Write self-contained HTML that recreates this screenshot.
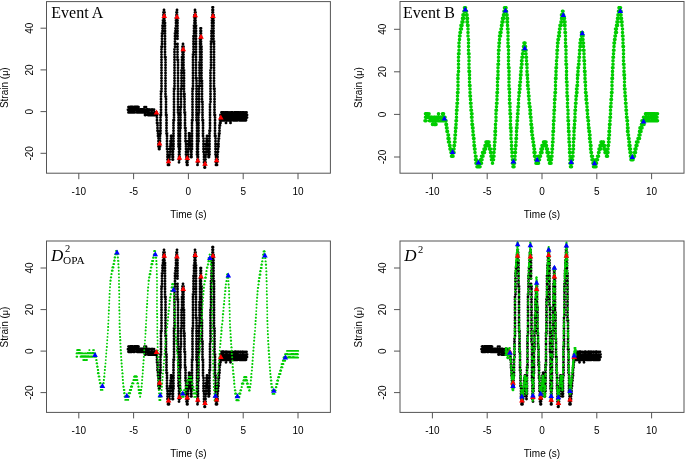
<!DOCTYPE html>
<html lang="en"><head><meta charset="utf-8"><title>Strain events</title>
<style>
html,body{margin:0;padding:0;background:#fff}
svg{display:block}
.s{font-family:"Liberation Sans",Arial,sans-serif;font-size:10px;fill:#000}
.t{font-family:"Liberation Serif","Times New Roman",serif;font-size:16px;fill:#000}
.ax{stroke:#555;stroke-width:1;fill:none}
.d{fill:none;stroke-linecap:round}
</style></head><body>
<svg width="685" height="460" viewBox="0 0 685 460">
<rect width="685" height="460" fill="#fff"/>
<g class="ax"><rect x="46.5" y="1.6" width="283.9" height="171.6"/><path d="M78.8 173.2v6M133.6 173.2v6M188.4 173.2v6M243.2 173.2v6M298.0 173.2v6M46.5 153.3h-6M46.5 111.6h-6M46.5 69.9h-6M46.5 28.2h-6"/></g>
<g class="s" text-anchor="middle"><text x="78.8" y="194.5">-10</text><text x="133.6" y="194.5">-5</text><text x="188.4" y="194.5">0</text><text x="243.2" y="194.5">5</text><text x="298.0" y="194.5">10</text><text x="188.4" y="217.7">Time (s)</text><text transform="translate(32.9 153.3) rotate(-90)">-20</text><text transform="translate(32.9 111.6) rotate(-90)">0</text><text transform="translate(32.9 69.9) rotate(-90)">20</text><text transform="translate(32.9 28.2) rotate(-90)">40</text><text transform="translate(8.1 87.7) rotate(-90)">Strain (<tspan style="font-size:9px">μ</tspan>)</text></g>
<g class="ax"><rect x="400.0" y="1.5" width="284.0" height="171.7"/><path d="M432.4 173.2v6M487.2 173.2v6M542.0 173.2v6M596.8 173.2v6M651.6 173.2v6M400.0 157.0h-6M400.0 114.4h-6M400.0 71.8h-6M400.0 29.3h-6"/></g>
<g class="s" text-anchor="middle"><text x="432.4" y="194.5">-10</text><text x="487.2" y="194.5">-5</text><text x="542.0" y="194.5">0</text><text x="596.8" y="194.5">5</text><text x="651.6" y="194.5">10</text><text x="542.0" y="217.7">Time (s)</text><text transform="translate(386.4 157.0) rotate(-90)">-20</text><text transform="translate(386.4 114.4) rotate(-90)">0</text><text transform="translate(386.4 71.8) rotate(-90)">20</text><text transform="translate(386.4 29.3) rotate(-90)">40</text><text transform="translate(361.6 87.6) rotate(-90)">Strain (<tspan style="font-size:9px">μ</tspan>)</text></g>
<g class="ax"><rect x="46.5" y="241.0" width="283.9" height="171.4"/><path d="M78.8 412.4v6M133.6 412.4v6M188.4 412.4v6M243.2 412.4v6M298.0 412.4v6M46.5 392.6h-6M46.5 351.1h-6M46.5 309.6h-6M46.5 268.0h-6"/></g>
<g class="s" text-anchor="middle"><text x="78.8" y="433.8">-10</text><text x="133.6" y="433.8">-5</text><text x="188.4" y="433.8">0</text><text x="243.2" y="433.8">5</text><text x="298.0" y="433.8">10</text><text x="188.4" y="456.9">Time (s)</text><text transform="translate(32.9 392.6) rotate(-90)">-20</text><text transform="translate(32.9 351.1) rotate(-90)">0</text><text transform="translate(32.9 309.6) rotate(-90)">20</text><text transform="translate(32.9 268.0) rotate(-90)">40</text><text transform="translate(8.1 327.0) rotate(-90)">Strain (<tspan style="font-size:9px">μ</tspan>)</text></g>
<g class="ax"><rect x="400.0" y="241.0" width="284.0" height="171.4"/><path d="M432.4 412.4v6M487.2 412.4v6M542.0 412.4v6M596.8 412.4v6M651.6 412.4v6M400.0 392.6h-6M400.0 351.1h-6M400.0 309.6h-6M400.0 268.0h-6"/></g>
<g class="s" text-anchor="middle"><text x="432.4" y="433.8">-10</text><text x="487.2" y="433.8">-5</text><text x="542.0" y="433.8">0</text><text x="596.8" y="433.8">5</text><text x="651.6" y="433.8">10</text><text x="542.0" y="456.9">Time (s)</text><text transform="translate(386.4 392.6) rotate(-90)">-20</text><text transform="translate(386.4 351.1) rotate(-90)">0</text><text transform="translate(386.4 309.6) rotate(-90)">20</text><text transform="translate(386.4 268.0) rotate(-90)">40</text><text transform="translate(361.6 327.0) rotate(-90)">Strain (<tspan style="font-size:9px">μ</tspan>)</text></g>
<path class="d" stroke="#000" stroke-width="2.85" d="M128 109.7h.01M128.5 109.7h.01M128.5 112.4h.01M128.5 107.1h.01M129 109.7h.01M129 112.4h.01M129 107.1h.01M129.5 109.7h.01M129.5 112.4h.01M130 109.7h.01M130 107.1h.01M130.5 107.1h.01M130.5 109.7h.01M130.5 112.4h.01M131 109.7h.01M131 112.4h.01M131 107.1h.01M131.5 109.7h.01M131.5 107.1h.01M131.5 112.4h.01M132 107.1h.01M132 109.7h.01M132 112.4h.01M132.5 109.7h.01M132.5 107.1h.01M133 109.7h.01M133 107.1h.01M133.5 109.7h.01M133.5 112.4h.01M134 109.7h.01M134 107.1h.01M134 112.4h.01M134.5 109.7h.01M134.5 107.1h.01M134.5 112.4h.01M135 109.7h.01M135 107.1h.01M135.5 109.7h.01M135.5 107.1h.01M136 109.7h.01M136 107.1h.01M136.5 109.7h.01M136.5 107.1h.01M137 109.7h.01M137 107.1h.01M137 112.4h.01M137.5 109.7h.01M137.5 112.4h.01M137.5 107.1h.01M138 112.4h.01M138 109.7h.01M138 107.1h.01M138.5 109.7h.01M138.5 107.1h.01M139 109.7h.01M139 112.4h.01M139.5 109.7h.01M139.5 112.4h.01M140 109.7h.01M140 112.4h.01M140.5 109.7h.01M140.5 112.4h.01M141 109.7h.01M141 112.4h.01M141.5 109.7h.01M141.5 112.4h.01M142 112.4h.01M142 109.7h.01M142.5 109.7h.01M142.5 112.4h.01M143 112.4h.01M143 109.7h.01M143.5 112.4h.01M143.5 109.7h.01M144 109.7h.01M144 112.4h.01M144.5 109.7h.01M144.5 112.4h.01M144.5 107.1h.01M145 109.7h.01M145 115h.01M145 112.4h.01M145.5 109.7h.01M145.5 112.4h.01M145.5 115h.01M146 107.1h.01M146 112.4h.01M146 109.7h.01M146.5 109.7h.01M146.5 112.4h.01M147 112.4h.01M147 109.7h.01M147.5 112.4h.01M147.5 109.7h.01M148 109.7h.01M148 112.4h.01M148 115h.01M148.5 112.4h.01M148.5 115h.01M149 115h.01M149 109.7h.01M149 112.4h.01M149.5 112.4h.01M149.5 115h.01M149.5 109.7h.01M150 112.4h.01M150 115h.01M150.5 112.4h.01M150.5 115h.01M151 112.4h.01M151 109.7h.01M151.5 112.4h.01M151.5 115h.01M152 109.7h.01M152 112.4h.01M152 115h.01M152.5 112.4h.01M152.5 115h.01M152.5 109.7h.01M153 112.4h.01M153 115h.01M153.5 112.4h.01M153.5 115h.01M154 115h.01M154 112.4h.01M154 109.7h.01M154.5 112.4h.01M154.5 115h.01M155 115h.01M155 112.4h.01M155.5 115h.01M155.5 112.4h.01M156 112.4h.01M156 115h.01M156.5 112.4h.01M156.5 115h.01M157 115h.01M157 117.6h.01M157 120.2h.01M157 122.9h.01M157.5 122.9h.01M157.5 125.5h.01M157.5 128.1h.01M157.5 130.7h.01M158 130.7h.01M158 133.4h.01M158 136h.01M158.5 136h.01M158.5 138.6h.01M158.5 141.2h.01M158.5 143.9h.01M158.5 146.5h.01M159 143.9h.01M159 146.5h.01M159 149.1h.01M159.5 149.1h.01M159.5 146.5h.01M160 146.5h.01M160 143.9h.01M160 141.2h.01M160 138.6h.01M160 136h.01M160 133.4h.01M160 130.7h.01M160.5 130.7h.01M160.5 133.4h.01M160.5 128.1h.01M160.5 125.5h.01M160.5 122.9h.01M160.5 120.2h.01M160.5 117.6h.01M160.5 115h.01M161 115h.01M161 112.4h.01M161 109.7h.01M161 107.1h.01M161 104.5h.01M161 101.8h.01M161 99.2h.01M161 96.6h.01M161 94h.01M161 91.3h.01M161.5 91.3h.01M161.5 88.7h.01M161.5 86.1h.01M161.5 83.5h.01M161.5 80.8h.01M161.5 78.2h.01M161.5 75.6h.01M161.5 72.9h.01M161.5 70.3h.01M161.5 67.7h.01M161.5 65.1h.01M161.5 62.4h.01M161.5 59.8h.01M161.5 57.2h.01M161.5 54.6h.01M161.5 51.9h.01M161.5 49.3h.01M161.5 46.7h.01M162 46.7h.01M162 44h.01M162 41.4h.01M162 38.8h.01M162 36.2h.01M162 33.5h.01M162.5 33.5h.01M162.5 30.9h.01M162.5 28.3h.01M162.5 25.7h.01M163 25.7h.01M163 28.3h.01M163 23h.01M163 20.4h.01M163.5 20.4h.01M163.5 17.8h.01M163.5 15.1h.01M163.5 12.5h.01M164 12.5h.01M164 9.9h.01M164.5 15.1h.01M164.5 12.5h.01M164.5 17.8h.01M164.5 20.4h.01M164.5 23h.01M165 23h.01M165 25.7h.01M165 28.3h.01M165 30.9h.01M165 33.5h.01M165 36.2h.01M165 38.8h.01M165 41.4h.01M165 44h.01M165 46.7h.01M165 49.3h.01M165 51.9h.01M165 54.6h.01M165 57.2h.01M165.5 57.2h.01M165.5 59.8h.01M165.5 62.4h.01M165.5 65.1h.01M165.5 67.7h.01M165.5 70.3h.01M165.5 72.9h.01M165.5 75.6h.01M165.5 78.2h.01M165.5 80.8h.01M165.5 83.5h.01M165.5 86.1h.01M165.5 88.7h.01M165.5 91.3h.01M165.5 94h.01M165.5 96.6h.01M166 96.6h.01M166 99.2h.01M166 101.8h.01M166 104.5h.01M166 107.1h.01M166 109.7h.01M166 112.4h.01M166 115h.01M166.5 115h.01M166.5 117.6h.01M166.5 120.2h.01M166.5 122.9h.01M166.5 125.5h.01M166.5 128.1h.01M166.5 130.7h.01M166.5 133.4h.01M167 133.4h.01M167 136h.01M167 138.6h.01M167 141.2h.01M167 143.9h.01M167 146.5h.01M167 149.1h.01M167.5 149.1h.01M167.5 151.8h.01M167.5 154.4h.01M167.5 157h.01M167.5 159.6h.01M168 157h.01M168 159.6h.01M168 162.3h.01M168 164.9h.01M168.5 164.9h.01M169 164.9h.01M169 162.3h.01M169 159.6h.01M169.5 159.6h.01M169.5 157h.01M169.5 154.4h.01M170 154.4h.01M170 151.8h.01M170 149.1h.01M170 146.5h.01M170.5 146.5h.01M170.5 143.9h.01M170.5 141.2h.01M171 141.2h.01M171 138.6h.01M171 136h.01M171.5 138.6h.01M171.5 136h.01M171.5 141.2h.01M172 141.2h.01M172 143.9h.01M172 146.5h.01M172 149.1h.01M172.5 149.1h.01M172.5 151.8h.01M172.5 154.4h.01M172.5 157h.01M172.5 159.6h.01M173 157h.01M173 159.6h.01M173 154.4h.01M173 151.8h.01M173 149.1h.01M173.5 149.1h.01M173.5 146.5h.01M173.5 143.9h.01M173.5 141.2h.01M173.5 138.6h.01M173.5 136h.01M173.5 133.4h.01M173.5 130.7h.01M173.5 128.1h.01M173.5 125.5h.01M173.5 122.9h.01M173.5 120.2h.01M174 120.2h.01M174 117.6h.01M174 115h.01M174 112.4h.01M174 109.7h.01M174 107.1h.01M174 104.5h.01M174 101.8h.01M174 99.2h.01M174 96.6h.01M174 94h.01M174 91.3h.01M174 88.7h.01M174.5 88.7h.01M174.5 86.1h.01M174.5 83.5h.01M174.5 80.8h.01M174.5 78.2h.01M174.5 75.6h.01M174.5 72.9h.01M174.5 70.3h.01M174.5 67.7h.01M174.5 65.1h.01M174.5 62.4h.01M174.5 59.8h.01M174.5 57.2h.01M174.5 54.6h.01M174.5 51.9h.01M174.5 49.3h.01M175 46.7h.01M175 44h.01M175 41.4h.01M175 38.8h.01M175 36.2h.01M175 33.5h.01M175.5 36.2h.01M175.5 33.5h.01M175.5 30.9h.01M175.5 28.3h.01M176 28.3h.01M176 25.7h.01M176 23h.01M176 20.4h.01M176 17.8h.01M176.5 17.8h.01M176.5 15.1h.01M176.5 12.5h.01M177 12.5h.01M177 9.9h.01M177 15.1h.01M177 17.8h.01M177.5 17.8h.01M177.5 20.4h.01M177.5 23h.01M177.5 25.7h.01M177.5 28.3h.01M177.5 30.9h.01M177.5 33.5h.01M177.5 36.2h.01M177.5 38.8h.01M177.5 44h.01M177.5 46.7h.01M177.5 49.3h.01M177.5 51.9h.01M177.5 54.6h.01M177.5 57.2h.01M177.5 59.8h.01M178 59.8h.01M178 62.4h.01M178 65.1h.01M178 67.7h.01M178 70.3h.01M178 72.9h.01M178 75.6h.01M178 78.2h.01M178 80.8h.01M178 83.5h.01M178 86.1h.01M178 88.7h.01M178 91.3h.01M178 94h.01M178 96.6h.01M178 99.2h.01M178 101.8h.01M178 104.5h.01M178 107.1h.01M178 109.7h.01M178 112.4h.01M178.5 112.4h.01M178.5 115h.01M178.5 117.6h.01M178.5 120.2h.01M178.5 122.9h.01M178.5 125.5h.01M178.5 128.1h.01M178.5 130.7h.01M178.5 133.4h.01M178.5 136h.01M178.5 138.6h.01M178.5 141.2h.01M178.5 143.9h.01M178.5 146.5h.01M179 146.5h.01M179 149.1h.01M179 151.8h.01M179 154.4h.01M179 157h.01M179 159.6h.01M179 162.3h.01M179.5 159.6h.01M179.5 157h.01M179.5 154.4h.01M179.5 151.8h.01M180 149.1h.01M180 146.5h.01M180 143.9h.01M180 141.2h.01M180 138.6h.01M180 136h.01M180 133.4h.01M180 130.7h.01M180 128.1h.01M180.5 128.1h.01M180.5 125.5h.01M180.5 122.9h.01M180.5 120.2h.01M180.5 117.6h.01M180.5 115h.01M180.5 112.4h.01M180.5 109.7h.01M180.5 107.1h.01M181 107.1h.01M181 104.5h.01M181 101.8h.01M181 99.2h.01M181 96.6h.01M181 94h.01M181 91.3h.01M181 88.7h.01M181.5 88.7h.01M181.5 86.1h.01M181.5 83.5h.01M181.5 80.8h.01M181.5 78.2h.01M181.5 75.6h.01M181.5 72.9h.01M181.5 70.3h.01M182 70.3h.01M182 67.7h.01M182 65.1h.01M182 62.4h.01M182 59.8h.01M182 57.2h.01M182.5 57.2h.01M182.5 54.6h.01M182.5 51.9h.01M182.5 49.3h.01M182.5 46.7h.01M183 46.7h.01M183 44h.01M183 49.3h.01M183.5 46.7h.01M183.5 49.3h.01M183.5 51.9h.01M183.5 54.6h.01M183.5 57.2h.01M183.5 59.8h.01M183.5 62.4h.01M183.5 65.1h.01M183.5 67.7h.01M183.5 70.3h.01M184 70.3h.01M184 72.9h.01M184 75.6h.01M184 78.2h.01M184 80.8h.01M184 83.5h.01M184 86.1h.01M184 88.7h.01M184 91.3h.01M184 94h.01M184 96.6h.01M184.5 96.6h.01M184.5 94h.01M184.5 99.2h.01M184.5 101.8h.01M184.5 104.5h.01M184.5 107.1h.01M184.5 109.7h.01M184.5 112.4h.01M185 112.4h.01M185 115h.01M185 117.6h.01M185 120.2h.01M185 122.9h.01M185 125.5h.01M185 128.1h.01M185.5 128.1h.01M185.5 130.7h.01M185.5 133.4h.01M185.5 136h.01M185.5 138.6h.01M185.5 141.2h.01M186 141.2h.01M186 143.9h.01M186 146.5h.01M186 149.1h.01M186 151.8h.01M186 154.4h.01M186.5 157h.01M186.5 154.4h.01M186.5 159.6h.01M186.5 162.3h.01M187 162.3h.01M187 164.9h.01M187.5 162.3h.01M187.5 164.9h.01M187.5 159.6h.01M188 159.6h.01M188 157h.01M188 154.4h.01M188 151.8h.01M188 149.1h.01M188.5 149.1h.01M188.5 146.5h.01M188.5 143.9h.01M188.5 141.2h.01M189 141.2h.01M189 138.6h.01M189 136h.01M189 133.4h.01M189.5 133.4h.01M189.5 136h.01M190 136h.01M190 138.6h.01M190 141.2h.01M190 143.9h.01M190.5 141.2h.01M190.5 143.9h.01M190.5 146.5h.01M190.5 149.1h.01M191 151.8h.01M191 154.4h.01M191 157h.01M191.5 154.4h.01M191.5 157h.01M191.5 151.8h.01M191.5 149.1h.01M192 149.1h.01M192 146.5h.01M192 143.9h.01M192 141.2h.01M192 138.6h.01M192 136h.01M192 133.4h.01M192 130.7h.01M192 128.1h.01M192 125.5h.01M192 122.9h.01M192 120.2h.01M192.5 120.2h.01M192.5 117.6h.01M192.5 115h.01M192.5 112.4h.01M192.5 109.7h.01M192.5 107.1h.01M192.5 104.5h.01M192.5 101.8h.01M192.5 99.2h.01M192.5 96.6h.01M192.5 94h.01M192.5 91.3h.01M192.5 88.7h.01M193 88.7h.01M193 86.1h.01M193 83.5h.01M193 80.8h.01M193 78.2h.01M193 75.6h.01M193 72.9h.01M193 70.3h.01M193 67.7h.01M193 65.1h.01M193 62.4h.01M193 59.8h.01M193 57.2h.01M193 54.6h.01M193.5 54.6h.01M193.5 51.9h.01M193.5 49.3h.01M193.5 46.7h.01M193.5 44h.01M193.5 41.4h.01M193.5 38.8h.01M193.5 36.2h.01M194 36.2h.01M194 33.5h.01M194 30.9h.01M194 28.3h.01M194 25.7h.01M194.5 25.7h.01M194.5 23h.01M194.5 20.4h.01M194.5 17.8h.01M194.5 15.1h.01M195 15.1h.01M195 12.5h.01M195 9.9h.01M195.5 12.5h.01M195.5 15.1h.01M195.5 17.8h.01M195.5 20.4h.01M195.5 23h.01M195.5 25.7h.01M196 25.7h.01M196 28.3h.01M196 30.9h.01M196 33.5h.01M196 36.2h.01M196 38.8h.01M196 41.4h.01M196 44h.01M196 46.7h.01M196 49.3h.01M196 51.9h.01M196 54.6h.01M196 57.2h.01M196 59.8h.01M196 62.4h.01M196 65.1h.01M196 67.7h.01M196 70.3h.01M196 72.9h.01M196 75.6h.01M196 78.2h.01M196.5 78.2h.01M196.5 80.8h.01M196.5 83.5h.01M196.5 86.1h.01M196.5 88.7h.01M196.5 91.3h.01M196.5 94h.01M196.5 96.6h.01M196.5 99.2h.01M196.5 101.8h.01M196.5 104.5h.01M196.5 107.1h.01M196.5 109.7h.01M196.5 112.4h.01M196.5 115h.01M196.5 117.6h.01M196.5 120.2h.01M197 120.2h.01M197 122.9h.01M197 125.5h.01M197 128.1h.01M197 130.7h.01M197 133.4h.01M197 136h.01M197 138.6h.01M197 141.2h.01M197 143.9h.01M197 146.5h.01M197 149.1h.01M197 151.8h.01M197 154.4h.01M197.5 154.4h.01M197.5 157h.01M197.5 159.6h.01M197.5 162.3h.01M197.5 164.9h.01M198 162.3h.01M198 159.6h.01M198 157h.01M198 154.4h.01M198 151.8h.01M198 149.1h.01M198 146.5h.01M198 143.9h.01M198.5 141.2h.01M198.5 138.6h.01M198.5 136h.01M198.5 133.4h.01M198.5 130.7h.01M198.5 128.1h.01M198.5 125.5h.01M198.5 122.9h.01M198.5 120.2h.01M198.5 117.6h.01M198.5 115h.01M198.5 112.4h.01M199 112.4h.01M199 109.7h.01M199 107.1h.01M199 104.5h.01M199 101.8h.01M199 99.2h.01M199 96.6h.01M199 94h.01M199 91.3h.01M199 88.7h.01M199 86.1h.01M199.5 86.1h.01M199.5 83.5h.01M199.5 80.8h.01M199.5 78.2h.01M199.5 75.6h.01M199.5 72.9h.01M199.5 70.3h.01M199.5 67.7h.01M199.5 65.1h.01M199.5 62.4h.01M200 62.4h.01M200 59.8h.01M200 57.2h.01M200 54.6h.01M200 51.9h.01M200 49.3h.01M200 46.7h.01M200 44h.01M200 41.4h.01M200 38.8h.01M200.5 38.8h.01M200.5 36.2h.01M200.5 33.5h.01M200.5 30.9h.01M200.5 28.3h.01M201 28.3h.01M201 30.9h.01M201 33.5h.01M201 36.2h.01M201 38.8h.01M201 41.4h.01M201 44h.01M201 46.7h.01M201.5 46.7h.01M201.5 49.3h.01M201.5 51.9h.01M201.5 54.6h.01M201.5 57.2h.01M201.5 59.8h.01M201.5 62.4h.01M201.5 65.1h.01M201.5 67.7h.01M201.5 70.3h.01M201.5 72.9h.01M201.5 75.6h.01M201.5 78.2h.01M201.5 80.8h.01M202 80.8h.01M202 83.5h.01M202 86.1h.01M202 88.7h.01M202 91.3h.01M202 94h.01M202 96.6h.01M202 99.2h.01M202 101.8h.01M202.5 101.8h.01M202.5 104.5h.01M202.5 107.1h.01M202.5 109.7h.01M202.5 112.4h.01M202.5 115h.01M202.5 117.6h.01M202.5 120.2h.01M203 120.2h.01M203 122.9h.01M203 125.5h.01M203 128.1h.01M203 130.7h.01M203 133.4h.01M203 136h.01M203.5 138.6h.01M203.5 141.2h.01M203.5 143.9h.01M203.5 146.5h.01M203.5 149.1h.01M203.5 151.8h.01M204 151.8h.01M204 154.4h.01M204 157h.01M204 159.6h.01M204 162.3h.01M204.5 162.3h.01M204.5 164.9h.01M204.5 167.5h.01M205 167.5h.01M205 164.9h.01M205 162.3h.01M205.5 162.3h.01M205.5 159.6h.01M205.5 157h.01M205.5 154.4h.01M206 154.4h.01M206 151.8h.01M206 149.1h.01M206 146.5h.01M206 143.9h.01M206.5 143.9h.01M206.5 141.2h.01M206.5 138.6h.01M207 138.6h.01M207 136h.01M207.5 138.6h.01M207.5 141.2h.01M207.5 143.9h.01M208 143.9h.01M208 146.5h.01M208 149.1h.01M208 151.8h.01M208.5 151.8h.01M208.5 149.1h.01M208.5 154.4h.01M208.5 157h.01M209 154.4h.01M209 157h.01M209.5 154.4h.01M209.5 151.8h.01M209.5 149.1h.01M209.5 146.5h.01M209.5 143.9h.01M209.5 141.2h.01M209.5 138.6h.01M209.5 136h.01M209.5 133.4h.01M209.5 130.7h.01M210 130.7h.01M210 128.1h.01M210 125.5h.01M210 122.9h.01M210 120.2h.01M210 117.6h.01M210 115h.01M210 112.4h.01M210 109.7h.01M210 107.1h.01M210 104.5h.01M210.5 101.8h.01M210.5 99.2h.01M210.5 96.6h.01M210.5 94h.01M210.5 91.3h.01M210.5 88.7h.01M210.5 86.1h.01M210.5 83.5h.01M210.5 80.8h.01M210.5 78.2h.01M210.5 75.6h.01M210.5 72.9h.01M210.5 70.3h.01M211 67.7h.01M211 65.1h.01M211 62.4h.01M211 59.8h.01M211 57.2h.01M211 54.6h.01M211 51.9h.01M211 49.3h.01M211 46.7h.01M211 44h.01M211 41.4h.01M211.5 41.4h.01M211.5 38.8h.01M211.5 36.2h.01M211.5 33.5h.01M211.5 30.9h.01M212 28.3h.01M212 25.7h.01M212 23h.01M212 20.4h.01M212 17.8h.01M212.5 17.8h.01M212.5 15.1h.01M212.5 12.5h.01M212.5 9.9h.01M212.5 7.3h.01M213 7.3h.01M213 9.9h.01M213 12.5h.01M213 15.1h.01M213.5 15.1h.01M213.5 17.8h.01M213.5 20.4h.01M213.5 23h.01M213.5 25.7h.01M213.5 28.3h.01M213.5 30.9h.01M213.5 33.5h.01M213.5 36.2h.01M213.5 38.8h.01M213.5 41.4h.01M214 41.4h.01M214 44h.01M214 46.7h.01M214 49.3h.01M214 51.9h.01M214 54.6h.01M214 57.2h.01M214 59.8h.01M214 62.4h.01M214 65.1h.01M214 67.7h.01M214 70.3h.01M214 72.9h.01M214 75.6h.01M214 78.2h.01M214 80.8h.01M214 83.5h.01M214 86.1h.01M214 88.7h.01M214.5 88.7h.01M214.5 91.3h.01M214.5 94h.01M214.5 96.6h.01M214.5 99.2h.01M214.5 101.8h.01M214.5 104.5h.01M214.5 107.1h.01M214.5 109.7h.01M214.5 112.4h.01M214.5 115h.01M215 115h.01M215 117.6h.01M215 120.2h.01M215 122.9h.01M215 125.5h.01M215 128.1h.01M215 130.7h.01M215 133.4h.01M215 136h.01M215.5 136h.01M215.5 138.6h.01M215.5 141.2h.01M215.5 143.9h.01M215.5 146.5h.01M215.5 149.1h.01M215.5 151.8h.01M215.5 154.4h.01M216 154.4h.01M216 157h.01M216 159.6h.01M216 162.3h.01M216 164.9h.01M216.5 164.9h.01M217 162.3h.01M217 164.9h.01M217 159.6h.01M217.5 159.6h.01M217.5 157h.01M217.5 154.4h.01M217.5 151.8h.01M218 151.8h.01M218 149.1h.01M218 146.5h.01M218 143.9h.01M218.5 143.9h.01M218.5 146.5h.01M218.5 141.2h.01M218.5 138.6h.01M219 138.6h.01M219 136h.01M219 133.4h.01M219.5 133.4h.01M219.5 130.7h.01M219.5 128.1h.01M219.5 125.5h.01M220 125.5h.01M220 122.9h.01M220 120.2h.01M220.5 122.9h.01M220.5 120.2h.01M220.5 117.6h.01M220.5 115h.01M221 117.6h.01M221 120.2h.01M221 115h.01M221.5 120.2h.01M221.5 115h.01M221.5 117.6h.01M221.5 112.4h.01M222 115h.01M222 117.6h.01M222 120.2h.01M222 112.4h.01M222.5 117.6h.01M222.5 120.2h.01M222.5 112.4h.01M222.5 115h.01M223 120.2h.01M223 117.6h.01M223 115h.01M223 112.4h.01M223.5 112.4h.01M223.5 117.6h.01M223.5 120.2h.01M224 120.2h.01M224 115h.01M224 117.6h.01M224 112.4h.01M224.5 117.6h.01M224.5 115h.01M224.5 120.2h.01M225 117.6h.01M225 120.2h.01M225 115h.01M225.5 117.6h.01M225.5 115h.01M225.5 112.4h.01M226 112.4h.01M226 115h.01M226 117.6h.01M226 122.9h.01M226.5 112.4h.01M226.5 115h.01M226.5 120.2h.01M226.5 117.6h.01M227 117.6h.01M227 115h.01M227 120.2h.01M227.5 115h.01M227.5 117.6h.01M227.5 112.4h.01M227.5 120.2h.01M228 115h.01M228 117.6h.01M228 120.2h.01M228.5 115h.01M228.5 117.6h.01M229 115h.01M229 120.2h.01M229 117.6h.01M229 112.4h.01M229.5 115h.01M229.5 117.6h.01M229.5 120.2h.01M230 117.6h.01M230 115h.01M230.5 122.9h.01M230.5 117.6h.01M230.5 115h.01M230.5 120.2h.01M231 115h.01M231 117.6h.01M231 112.4h.01M231.5 115h.01M231.5 117.6h.01M231.5 112.4h.01M231.5 120.2h.01M232 115h.01M232 117.6h.01M232 112.4h.01M232.5 115h.01M232.5 112.4h.01M232.5 117.6h.01M233 120.2h.01M233 115h.01M233 117.6h.01M233.5 115h.01M233.5 117.6h.01M233.5 120.2h.01M234 115h.01M234 120.2h.01M234 117.6h.01M234.5 115h.01M234.5 112.4h.01M234.5 120.2h.01M234.5 117.6h.01M235 115h.01M235 117.6h.01M235 120.2h.01M235 112.4h.01M235.5 115h.01M235.5 112.4h.01M235.5 117.6h.01M235.5 120.2h.01M236 117.6h.01M236 115h.01M236 112.4h.01M236.5 117.6h.01M236.5 115h.01M236.5 120.2h.01M237 117.6h.01M237 112.4h.01M237 115h.01M237.5 115h.01M237.5 117.6h.01M237.5 120.2h.01M238 117.6h.01M238 112.4h.01M238 115h.01M238.5 117.6h.01M238.5 115h.01M238.5 112.4h.01M239 115h.01M239 117.6h.01M239.5 115h.01M239.5 117.6h.01M239.5 120.2h.01M240 117.6h.01M240 115h.01M240 120.2h.01M240 112.4h.01M240.5 115h.01M240.5 117.6h.01M240.5 112.4h.01M240.5 120.2h.01M241 117.6h.01M241 115h.01M241.5 117.6h.01M241.5 115h.01M241.5 120.2h.01M242 120.2h.01M242 115h.01M242 117.6h.01M242 112.4h.01M242.5 120.2h.01M242.5 117.6h.01M242.5 115h.01M242.5 112.4h.01M243 117.6h.01M243 115h.01M243 120.2h.01M243.5 120.2h.01M243.5 112.4h.01M243.5 115h.01M243.5 117.6h.01M244 115h.01M244 120.2h.01M244 117.6h.01M244.5 115h.01M244.5 120.2h.01M244.5 117.6h.01M245 115h.01M245 120.2h.01M245 117.6h.01M245 112.4h.01M245.5 117.6h.01M245.5 115h.01M246 115h.01M246 117.6h.01M246 120.2h.01M246.5 112.4h.01M246.5 117.6h.01M246.5 115h.01M247 117.6h.01M247 115h.01"/>
<path fill="#f00" d="M156.5 109.4L159.3 114.4L153.7 114.4ZM159.6 140.5L162.4 145.5L156.8 145.5ZM164.2 12.9L167.1 17.9L161.4 17.9ZM168.5 158.3L171.3 163.3L165.7 163.3ZM177.0 13.7L179.8 18.7L174.2 18.7ZM179.5 154.7L182.3 159.7L176.7 159.7ZM183.2 46.2L186.1 51.2L180.4 51.2ZM187.2 155.1L190.1 160.1L184.4 160.1ZM195.2 12.2L198.1 17.2L192.4 17.2ZM197.8 157.4L200.6 162.4L195.0 162.4ZM201.0 33.7L203.8 38.7L198.2 38.7ZM205.0 160.8L207.8 165.8L202.2 165.8ZM213.0 12.9L215.8 17.9L210.2 17.9ZM216.6 157.2L219.4 162.2L213.8 162.2ZM220.8 114.5L223.6 119.5L218.0 119.5Z"/>
<text class="t" x="51.3" y="17.8">Event A</text>
<path class="d" stroke="#00cd00" stroke-width="3.6" d="M425 120.8h.01M425.5 120.8h.01M425.5 117.3h.01M425.5 113.8h.01M426 117.3h.01M426 120.8h.01M426 113.8h.01M426.5 113.8h.01M426.5 117.3h.01M427 117.3h.01M427 113.8h.01M427.5 113.8h.01M427.5 117.3h.01M428 117.3h.01M428 113.8h.01M428.5 117.3h.01M429 117.3h.01M429 113.8h.01M429.5 117.3h.01M429.5 120.8h.01M430 120.8h.01M430 117.3h.01M430.5 117.3h.01M430.5 120.8h.01M431 120.8h.01M431 117.3h.01M431.5 117.3h.01M431.5 120.8h.01M432 120.8h.01M432 117.3h.01M432.5 120.8h.01M432.5 124.4h.01M433 120.8h.01M433 117.3h.01M433.5 120.8h.01M434 120.8h.01M434 124.4h.01M434 117.3h.01M434.5 117.3h.01M434.5 120.8h.01M435 120.8h.01M435 117.3h.01M435 124.4h.01M435.5 124.4h.01M435.5 120.8h.01M436 120.8h.01M436 124.4h.01M436.5 117.3h.01M436.5 120.8h.01M437 120.8h.01M437 117.3h.01M437.5 120.8h.01M437.5 117.3h.01M438 117.3h.01M438 120.8h.01M438.5 120.8h.01M438.5 117.3h.01M438.5 113.8h.01M439 117.3h.01M439 120.8h.01M439.5 117.3h.01M440 117.3h.01M440 120.8h.01M440.5 120.8h.01M440.5 117.3h.01M441 120.8h.01M441 117.3h.01M441.5 117.3h.01M441.5 120.8h.01M442 120.8h.01M442 117.3h.01M442.5 117.3h.01M442.5 113.8h.01M443 117.3h.01M443 113.8h.01M443.5 113.8h.01M443.5 117.3h.01M443.5 120.8h.01M444 120.8h.01M444 117.3h.01M444.5 120.8h.01M444.5 117.3h.01M445 117.3h.01M445 120.8h.01M445.5 120.8h.01M446 120.8h.01M446 124.4h.01M446.5 124.4h.01M446.5 127.9h.01M447 127.9h.01M447 131.4h.01M447.5 131.4h.01M448 135h.01M448 138.5h.01M448.5 135h.01M448.5 138.5h.01M448.5 142h.01M449 138.5h.01M449 142h.01M449.5 142h.01M449.5 145.6h.01M450 145.6h.01M450 149.1h.01M450.5 149.1h.01M451 149.1h.01M451 152.6h.01M451.5 152.6h.01M451.5 156.2h.01M452 152.6h.01M452 156.2h.01M452.5 156.2h.01M453 156.2h.01M453 152.6h.01M453.5 152.6h.01M454 152.6h.01M454 149.1h.01M454 145.6h.01M454.5 145.6h.01M454.5 142h.01M455 142h.01M455 138.5h.01M455 135h.01M455.5 135h.01M455.5 131.4h.01M455.5 127.9h.01M456 127.9h.01M456 124.4h.01M456 120.8h.01M456.5 120.8h.01M456.5 117.3h.01M456.5 113.8h.01M456.5 110.2h.01M457 110.2h.01M457 106.7h.01M457 103.2h.01M457.5 103.2h.01M457.5 99.6h.01M457.5 96.1h.01M457.5 92.6h.01M458 92.6h.01M458 89h.01M458 85.5h.01M458 82h.01M458 78.4h.01M458 74.9h.01M458.5 71.4h.01M458.5 67.8h.01M458.5 64.3h.01M458.5 60.8h.01M458.5 57.2h.01M458.5 53.7h.01M459 53.7h.01M459 50.2h.01M459 46.6h.01M459 43.1h.01M459.5 39.6h.01M459.5 36h.01M460 36h.01M460 32.5h.01M460.5 32.5h.01M460.5 29h.01M461 29h.01M461 25.4h.01M461.5 25.4h.01M461.5 29h.01M462 25.4h.01M462 21.9h.01M462.5 21.9h.01M462.5 18.4h.01M463 18.4h.01M463 21.9h.01M463 14.9h.01M463.5 14.9h.01M463.5 18.4h.01M464 14.9h.01M464 11.3h.01M464.5 11.3h.01M464.5 7.8h.01M465 7.8h.01M465 11.3h.01M465.5 7.8h.01M465.5 11.3h.01M466 11.3h.01M466.5 11.3h.01M466.5 14.9h.01M467 14.9h.01M467 18.4h.01M467 21.9h.01M467.5 21.9h.01M467.5 18.4h.01M467.5 25.4h.01M468 25.4h.01M468 29h.01M468 32.5h.01M468 36h.01M468.5 39.6h.01M468.5 43.1h.01M468.5 46.6h.01M468.5 50.2h.01M468.5 53.7h.01M469 53.7h.01M469 57.2h.01M469 60.8h.01M469 64.3h.01M469 67.8h.01M469 71.4h.01M469.5 71.4h.01M469.5 74.9h.01M469.5 78.4h.01M469.5 82h.01M469.5 85.5h.01M470 85.5h.01M470 89h.01M470 92.6h.01M470 96.1h.01M470.5 96.1h.01M470.5 99.6h.01M470.5 103.2h.01M471 103.2h.01M471 106.7h.01M471 110.2h.01M471.5 110.2h.01M471.5 113.8h.01M471.5 117.3h.01M472 113.8h.01M472 117.3h.01M472 120.8h.01M472 124.4h.01M472.5 124.4h.01M472.5 127.9h.01M473 127.9h.01M473 131.4h.01M473 135h.01M473.5 135h.01M473.5 138.5h.01M474 142h.01M474 138.5h.01M474 145.6h.01M474.5 145.6h.01M474.5 149.1h.01M475 149.1h.01M475 152.6h.01M475.5 156.2h.01M475.5 159.7h.01M476 159.7h.01M476 156.2h.01M476 163.2h.01M476.5 159.7h.01M476.5 163.2h.01M477 163.2h.01M477 166.7h.01M477.5 166.7h.01M477.5 163.2h.01M478 166.7h.01M478 163.2h.01M478.5 163.2h.01M478.5 166.7h.01M479 166.7h.01M479 163.2h.01M479.5 166.7h.01M479.5 163.2h.01M480 163.2h.01M480 166.7h.01M480.5 163.2h.01M480.5 159.7h.01M481 163.2h.01M481 159.7h.01M481.5 159.7h.01M481.5 163.2h.01M481.5 156.2h.01M482 156.2h.01M482 159.7h.01M482.5 156.2h.01M482.5 152.6h.01M483 156.2h.01M483 152.6h.01M483.5 152.6h.01M484 152.6h.01M484 149.1h.01M484.5 152.6h.01M484.5 149.1h.01M485 149.1h.01M485 145.6h.01M485.5 145.6h.01M485.5 149.1h.01M486 145.6h.01M486 142h.01M486.5 142h.01M486.5 145.6h.01M487 142h.01M487 145.6h.01M487.5 142h.01M487.5 145.6h.01M488 142h.01M488 145.6h.01M488.5 145.6h.01M488.5 142h.01M489 145.6h.01M489 142h.01M489.5 145.6h.01M489.5 149.1h.01M490 149.1h.01M490.5 149.1h.01M490.5 152.6h.01M491 152.6h.01M491 156.2h.01M491.5 156.2h.01M491.5 159.7h.01M492 159.7h.01M492 156.2h.01M492.5 159.7h.01M492.5 156.2h.01M492.5 163.2h.01M493 159.7h.01M493 156.2h.01M493.5 159.7h.01M493.5 156.2h.01M494 156.2h.01M494 152.6h.01M494 149.1h.01M494.5 149.1h.01M494.5 145.6h.01M494.5 142h.01M495 142h.01M495 138.5h.01M495 135h.01M495 131.4h.01M495.5 135h.01M495.5 131.4h.01M495.5 127.9h.01M495.5 124.4h.01M496 120.8h.01M496 117.3h.01M496 113.8h.01M496 110.2h.01M496.5 110.2h.01M496.5 106.7h.01M496.5 103.2h.01M497 103.2h.01M497 99.6h.01M497 96.1h.01M497 92.6h.01M497.5 92.6h.01M497.5 89h.01M497.5 85.5h.01M497.5 82h.01M497.5 78.4h.01M498 78.4h.01M498 74.9h.01M498 71.4h.01M498 67.8h.01M498 64.3h.01M498.5 64.3h.01M498.5 60.8h.01M498.5 57.2h.01M498.5 53.7h.01M498.5 50.2h.01M499 50.2h.01M499 46.6h.01M499 43.1h.01M499.5 43.1h.01M499.5 39.6h.01M499.5 36h.01M500 36h.01M500 32.5h.01M500.5 36h.01M500.5 32.5h.01M501 32.5h.01M501 29h.01M501.5 29h.01M501.5 25.4h.01M502 25.4h.01M502 21.9h.01M502.5 21.9h.01M502.5 18.4h.01M503 18.4h.01M503 21.9h.01M503.5 18.4h.01M503.5 14.9h.01M504 14.9h.01M504 11.3h.01M504.5 11.3h.01M504.5 14.9h.01M504.5 7.8h.01M505 7.8h.01M505 11.3h.01M505.5 11.3h.01M505.5 7.8h.01M506 11.3h.01M506 7.8h.01M506.5 11.3h.01M506.5 14.9h.01M507 14.9h.01M507 18.4h.01M507 21.9h.01M507.5 18.4h.01M507.5 21.9h.01M507.5 25.4h.01M507.5 29h.01M508 29h.01M508 32.5h.01M508 36h.01M508 39.6h.01M508 43.1h.01M508 46.6h.01M508.5 46.6h.01M508.5 50.2h.01M508.5 53.7h.01M508.5 57.2h.01M508.5 60.8h.01M508.5 64.3h.01M508.5 67.8h.01M509 67.8h.01M509 71.4h.01M509 74.9h.01M509 78.4h.01M509 82h.01M509 85.5h.01M509 89h.01M509.5 89h.01M509.5 92.6h.01M509.5 96.1h.01M509.5 99.6h.01M509.5 103.2h.01M510 103.2h.01M510 106.7h.01M510 110.2h.01M510 113.8h.01M510.5 113.8h.01M510.5 117.3h.01M510.5 120.8h.01M510.5 124.4h.01M510.5 127.9h.01M511 127.9h.01M511 131.4h.01M511 135h.01M511 138.5h.01M511.5 142h.01M511.5 145.6h.01M511.5 149.1h.01M512 149.1h.01M512 152.6h.01M512 156.2h.01M512.5 159.7h.01M512.5 163.2h.01M513 163.2h.01M513 166.7h.01M513.5 166.7h.01M513.5 163.2h.01M514 163.2h.01M514 166.7h.01M514.5 163.2h.01M514.5 159.7h.01M515 159.7h.01M515 156.2h.01M515 152.6h.01M515.5 152.6h.01M515.5 149.1h.01M515.5 145.6h.01M516 145.6h.01M516 142h.01M516 138.5h.01M516.5 138.5h.01M516.5 135h.01M516.5 131.4h.01M516.5 127.9h.01M517 127.9h.01M517 124.4h.01M517 120.8h.01M517.5 120.8h.01M517.5 117.3h.01M517.5 113.8h.01M518 113.8h.01M518 110.2h.01M518 106.7h.01M518.5 106.7h.01M518.5 103.2h.01M518.5 99.6h.01M519 96.1h.01M519 92.6h.01M519.5 92.6h.01M519.5 89h.01M519.5 85.5h.01M520 89h.01M520 85.5h.01M520 82h.01M520.5 82h.01M520.5 78.4h.01M520.5 74.9h.01M521 74.9h.01M521 71.4h.01M521 67.8h.01M521.5 67.8h.01M521.5 64.3h.01M521.5 60.8h.01M522 60.8h.01M522 64.3h.01M522 57.2h.01M522.5 57.2h.01M522.5 53.7h.01M523 53.7h.01M523 50.2h.01M523.5 50.2h.01M523.5 46.6h.01M524 46.6h.01M524 43.1h.01M524.5 43.1h.01M524.5 46.6h.01M525 46.6h.01M525 43.1h.01M525.5 46.6h.01M525.5 50.2h.01M526 50.2h.01M526 53.7h.01M526 57.2h.01M526.5 57.2h.01M526.5 60.8h.01M526.5 64.3h.01M527 64.3h.01M527 67.8h.01M527 71.4h.01M527 74.9h.01M527.5 74.9h.01M527.5 78.4h.01M527.5 82h.01M527.5 85.5h.01M528 82h.01M528 85.5h.01M528 89h.01M528.5 89h.01M528.5 92.6h.01M528.5 96.1h.01M529 96.1h.01M529 99.6h.01M529 103.2h.01M529.5 103.2h.01M529.5 106.7h.01M530 106.7h.01M530 110.2h.01M530 113.8h.01M530.5 110.2h.01M530.5 113.8h.01M530.5 117.3h.01M531 117.3h.01M531 120.8h.01M531 124.4h.01M531.5 124.4h.01M531.5 127.9h.01M531.5 131.4h.01M532 131.4h.01M532 127.9h.01M532 135h.01M532.5 135h.01M532.5 138.5h.01M533 142h.01M533 138.5h.01M533.5 142h.01M533.5 145.6h.01M534 145.6h.01M534 149.1h.01M534 152.6h.01M534.5 152.6h.01M534.5 149.1h.01M534.5 156.2h.01M535 152.6h.01M535 156.2h.01M535.5 156.2h.01M535.5 159.7h.01M536 159.7h.01M536 163.2h.01M536.5 163.2h.01M536.5 159.7h.01M537 163.2h.01M537.5 163.2h.01M537.5 159.7h.01M538 163.2h.01M538 159.7h.01M538.5 163.2h.01M538.5 159.7h.01M538.5 156.2h.01M539 159.7h.01M539 156.2h.01M539.5 159.7h.01M539.5 156.2h.01M540 156.2h.01M540.5 156.2h.01M540.5 152.6h.01M541 152.6h.01M541 149.1h.01M541.5 149.1h.01M541.5 152.6h.01M542 152.6h.01M542 149.1h.01M542 145.6h.01M542.5 145.6h.01M542.5 149.1h.01M543 145.6h.01M543.5 145.6h.01M543.5 142h.01M544 145.6h.01M544 142h.01M544.5 142h.01M544.5 145.6h.01M545 142h.01M545 145.6h.01M545.5 142h.01M545.5 145.6h.01M546 145.6h.01M546 142h.01M546.5 145.6h.01M546.5 149.1h.01M547 149.1h.01M547 152.6h.01M547.5 152.6h.01M547.5 149.1h.01M548 152.6h.01M548 156.2h.01M548.5 156.2h.01M548.5 152.6h.01M548.5 159.7h.01M549 159.7h.01M549 156.2h.01M549.5 159.7h.01M549.5 163.2h.01M550 159.7h.01M550 163.2h.01M550.5 159.7h.01M550.5 163.2h.01M551 159.7h.01M551 163.2h.01M551.5 159.7h.01M551.5 156.2h.01M552 156.2h.01M552 152.6h.01M552 149.1h.01M552.5 149.1h.01M552.5 145.6h.01M552.5 142h.01M553 142h.01M553 138.5h.01M553 135h.01M553 131.4h.01M553.5 131.4h.01M553.5 127.9h.01M553.5 124.4h.01M553.5 120.8h.01M554 120.8h.01M554 117.3h.01M554 113.8h.01M554 110.2h.01M554.5 110.2h.01M554.5 106.7h.01M554.5 103.2h.01M554.5 99.6h.01M555 99.6h.01M555 96.1h.01M555 92.6h.01M555.5 92.6h.01M555.5 89h.01M555.5 85.5h.01M555.5 82h.01M555.5 78.4h.01M556 78.4h.01M556 74.9h.01M556 71.4h.01M556 67.8h.01M556.5 67.8h.01M556.5 64.3h.01M556.5 60.8h.01M557 57.2h.01M557 53.7h.01M557 50.2h.01M557.5 50.2h.01M557.5 46.6h.01M557.5 43.1h.01M558 43.1h.01M558 39.6h.01M558.5 39.6h.01M558.5 36h.01M559 36h.01M559 32.5h.01M559.5 36h.01M559.5 32.5h.01M559.5 29h.01M560 29h.01M560 25.4h.01M560.5 25.4h.01M561 25.4h.01M561 21.9h.01M561.5 21.9h.01M561.5 18.4h.01M561.5 14.9h.01M562 14.9h.01M562 18.4h.01M562.5 14.9h.01M562.5 11.3h.01M563 14.9h.01M563 11.3h.01M563.5 14.9h.01M563.5 18.4h.01M564 18.4h.01M564 21.9h.01M564.5 18.4h.01M564.5 21.9h.01M564.5 25.4h.01M565 21.9h.01M565 25.4h.01M565 29h.01M565 32.5h.01M565.5 32.5h.01M565.5 36h.01M565.5 39.6h.01M565.5 43.1h.01M565.5 46.6h.01M566 46.6h.01M566 50.2h.01M566 53.7h.01M566 57.2h.01M566 60.8h.01M566 64.3h.01M566.5 64.3h.01M566.5 67.8h.01M566.5 71.4h.01M566.5 74.9h.01M566.5 78.4h.01M566.5 82h.01M567 82h.01M567 85.5h.01M567 89h.01M567 92.6h.01M567 96.1h.01M567.5 96.1h.01M567.5 99.6h.01M567.5 103.2h.01M567.5 106.7h.01M568 110.2h.01M568 113.8h.01M568 117.3h.01M568 120.8h.01M568.5 120.8h.01M568.5 124.4h.01M568.5 127.9h.01M568.5 131.4h.01M569 131.4h.01M569 135h.01M569 138.5h.01M569 142h.01M569.5 145.6h.01M569.5 142h.01M569.5 149.1h.01M569.5 152.6h.01M570 152.6h.01M570 156.2h.01M570 159.7h.01M570 163.2h.01M570.5 159.7h.01M570.5 163.2h.01M570.5 166.7h.01M571 166.7h.01M571 163.2h.01M571.5 166.7h.01M571.5 163.2h.01M572 163.2h.01M572 159.7h.01M572.5 159.7h.01M572.5 156.2h.01M573 156.2h.01M573 152.6h.01M573 149.1h.01M573.5 149.1h.01M573.5 145.6h.01M573.5 142h.01M573.5 138.5h.01M574 138.5h.01M574 135h.01M574 131.4h.01M574 127.9h.01M574.5 127.9h.01M574.5 124.4h.01M574.5 120.8h.01M575 120.8h.01M575 117.3h.01M575 113.8h.01M575 110.2h.01M575.5 110.2h.01M575.5 106.7h.01M575.5 103.2h.01M576 103.2h.01M576 99.6h.01M576 96.1h.01M576.5 96.1h.01M576.5 92.6h.01M576.5 89h.01M577 92.6h.01M577 89h.01M577 85.5h.01M577.5 85.5h.01M577.5 82h.01M577.5 78.4h.01M577.5 74.9h.01M578 74.9h.01M578 71.4h.01M578 67.8h.01M578.5 67.8h.01M578.5 64.3h.01M579 64.3h.01M579 60.8h.01M579 57.2h.01M579.5 57.2h.01M579.5 53.7h.01M579.5 50.2h.01M580 50.2h.01M580 46.6h.01M580 43.1h.01M580.5 46.6h.01M580.5 43.1h.01M580.5 39.6h.01M581 39.6h.01M581.5 39.6h.01M581.5 36h.01M581.5 32.5h.01M582 36h.01M582 32.5h.01M582.5 32.5h.01M582.5 36h.01M583 36h.01M583 39.6h.01M583 43.1h.01M583.5 43.1h.01M583.5 46.6h.01M583.5 50.2h.01M584 50.2h.01M584 53.7h.01M584 57.2h.01M584 60.8h.01M584.5 60.8h.01M584.5 64.3h.01M584.5 67.8h.01M584.5 71.4h.01M585 71.4h.01M585 74.9h.01M585 78.4h.01M585 82h.01M585.5 82h.01M585.5 85.5h.01M585.5 89h.01M585.5 92.6h.01M586 92.6h.01M586 96.1h.01M586 99.6h.01M586.5 96.1h.01M586.5 99.6h.01M586.5 103.2h.01M587 103.2h.01M587 106.7h.01M587 110.2h.01M587.5 110.2h.01M587.5 113.8h.01M587.5 117.3h.01M588 117.3h.01M588 120.8h.01M588.5 120.8h.01M588.5 124.4h.01M588.5 127.9h.01M589 127.9h.01M589 131.4h.01M589.5 131.4h.01M589.5 135h.01M589.5 138.5h.01M590 135h.01M590 138.5h.01M590 142h.01M590.5 142h.01M590.5 145.6h.01M590.5 149.1h.01M591 145.6h.01M591 149.1h.01M591 152.6h.01M591.5 152.6h.01M591.5 156.2h.01M592 156.2h.01M592 159.7h.01M592.5 156.2h.01M592.5 159.7h.01M593 159.7h.01M593 163.2h.01M593.5 159.7h.01M593.5 166.7h.01M593.5 163.2h.01M594 163.2h.01M594 166.7h.01M594.5 166.7h.01M594.5 163.2h.01M595 166.7h.01M595 163.2h.01M595.5 166.7h.01M595.5 163.2h.01M596 163.2h.01M596 166.7h.01M596 159.7h.01M596.5 159.7h.01M596.5 163.2h.01M597 159.7h.01M597.5 159.7h.01M597.5 156.2h.01M598 156.2h.01M598.5 156.2h.01M598.5 152.6h.01M599 152.6h.01M599 149.1h.01M599.5 149.1h.01M600 149.1h.01M600 145.6h.01M600.5 145.6h.01M600.5 149.1h.01M601 145.6h.01M601 142h.01M601.5 145.6h.01M601.5 142h.01M602 142h.01M602.5 145.6h.01M603 145.6h.01M603 142h.01M603.5 142h.01M603.5 145.6h.01M604 145.6h.01M604 149.1h.01M604.5 145.6h.01M604.5 149.1h.01M605 149.1h.01M605 152.6h.01M605.5 149.1h.01M605.5 152.6h.01M606 152.6h.01M606.5 152.6h.01M606.5 156.2h.01M607 156.2h.01M607 152.6h.01M607.5 156.2h.01M607.5 152.6h.01M608 152.6h.01M608 149.1h.01M608 145.6h.01M608.5 145.6h.01M608.5 142h.01M608.5 138.5h.01M609 142h.01M609 138.5h.01M609 135h.01M609 131.4h.01M609.5 131.4h.01M609.5 135h.01M609.5 127.9h.01M609.5 124.4h.01M610 124.4h.01M610 120.8h.01M610 117.3h.01M610.5 117.3h.01M610.5 113.8h.01M610.5 110.2h.01M610.5 106.7h.01M611 106.7h.01M611 103.2h.01M611 99.6h.01M611.5 99.6h.01M611.5 96.1h.01M611.5 92.6h.01M612 92.6h.01M612 89h.01M612 85.5h.01M612 82h.01M612 78.4h.01M612.5 78.4h.01M612.5 74.9h.01M612.5 71.4h.01M612.5 67.8h.01M613 67.8h.01M613 64.3h.01M613 60.8h.01M613 57.2h.01M613.5 57.2h.01M613.5 53.7h.01M613.5 50.2h.01M614 50.2h.01M614 46.6h.01M614 43.1h.01M614.5 43.1h.01M614.5 39.6h.01M615 39.6h.01M615 36h.01M615.5 36h.01M615.5 32.5h.01M615.5 29h.01M616 29h.01M616 32.5h.01M616.5 32.5h.01M616.5 29h.01M616.5 25.4h.01M617 25.4h.01M617 21.9h.01M617.5 25.4h.01M617.5 21.9h.01M617.5 18.4h.01M618 21.9h.01M618 18.4h.01M618 14.9h.01M618.5 14.9h.01M618.5 11.3h.01M619 11.3h.01M619 7.8h.01M619.5 11.3h.01M619.5 7.8h.01M620 7.8h.01M620 11.3h.01M620.5 7.8h.01M620.5 11.3h.01M620.5 14.9h.01M621 14.9h.01M621 11.3h.01M621 18.4h.01M621.5 18.4h.01M621.5 21.9h.01M622 21.9h.01M622 25.4h.01M622.5 29h.01M622.5 32.5h.01M622.5 36h.01M623 36h.01M623 39.6h.01M623 43.1h.01M623 46.6h.01M623.5 46.6h.01M623.5 50.2h.01M623.5 53.7h.01M623.5 57.2h.01M623.5 60.8h.01M623.5 64.3h.01M624 64.3h.01M624 67.8h.01M624 71.4h.01M624 74.9h.01M624.5 74.9h.01M624.5 78.4h.01M624.5 82h.01M624.5 85.5h.01M624.5 89h.01M625 89h.01M625 92.6h.01M625 96.1h.01M625.5 96.1h.01M625.5 99.6h.01M625.5 103.2h.01M626 103.2h.01M626 106.7h.01M626 110.2h.01M626.5 110.2h.01M626.5 113.8h.01M626.5 117.3h.01M627 117.3h.01M627 120.8h.01M627.5 120.8h.01M627.5 124.4h.01M627.5 127.9h.01M627.5 131.4h.01M628 131.4h.01M628 127.9h.01M628 135h.01M628.5 135h.01M628.5 138.5h.01M629 138.5h.01M629 142h.01M629 145.6h.01M629.5 142h.01M629.5 145.6h.01M629.5 149.1h.01M630 145.6h.01M630 149.1h.01M630 152.6h.01M630.5 152.6h.01M630.5 149.1h.01M630.5 156.2h.01M631 156.2h.01M631 152.6h.01M631 159.7h.01M631.5 156.2h.01M631.5 159.7h.01M632 159.7h.01M632 156.2h.01M632.5 159.7h.01M632.5 156.2h.01M633 159.7h.01M633 156.2h.01M633.5 156.2h.01M634 156.2h.01M634.5 156.2h.01M634.5 152.6h.01M635 152.6h.01M635 149.1h.01M635.5 152.6h.01M635.5 149.1h.01M636 149.1h.01M636 145.6h.01M636.5 145.6h.01M636.5 142h.01M637 142h.01M637 145.6h.01M637.5 142h.01M638 138.5h.01M638 142h.01M638.5 138.5h.01M639 135h.01M639.5 135h.01M639.5 138.5h.01M639.5 131.4h.01M640 131.4h.01M640 135h.01M640 127.9h.01M640.5 127.9h.01M640.5 131.4h.01M641 131.4h.01M641 127.9h.01M641.5 127.9h.01M641.5 124.4h.01M642 124.4h.01M642 127.9h.01M642 120.8h.01M642.5 124.4h.01M642.5 120.8h.01M643 120.8h.01M643 124.4h.01M643.5 124.4h.01M643.5 120.8h.01M643.5 117.3h.01M644 120.8h.01M644 124.4h.01M644.5 120.8h.01M644.5 117.3h.01M645 120.8h.01M645 117.3h.01M645.5 117.3h.01M645.5 120.8h.01M645.5 113.8h.01M646 117.3h.01M646 113.8h.01M646.5 117.3h.01M646.5 113.8h.01M646.5 120.8h.01M647 120.8h.01M647 117.3h.01M647.5 120.8h.01M647.5 113.8h.01M648 120.8h.01M648 113.8h.01M648 117.3h.01M648.5 117.3h.01M648.5 120.8h.01M648.5 113.8h.01M649 120.8h.01M649 113.8h.01M649 117.3h.01M649.5 120.8h.01M649.5 113.8h.01M650 113.8h.01M650 117.3h.01M650 120.8h.01M650.5 113.8h.01M650.5 117.3h.01M651 113.8h.01M651 120.8h.01M651 117.3h.01M651.5 117.3h.01M651.5 120.8h.01M651.5 113.8h.01M652 113.8h.01M652 117.3h.01M652 120.8h.01M652.5 117.3h.01M652.5 113.8h.01M652.5 120.8h.01M653 117.3h.01M653 113.8h.01M653 120.8h.01M653.5 120.8h.01M653.5 113.8h.01M653.5 117.3h.01M654 120.8h.01M654 113.8h.01M654 117.3h.01M654.5 117.3h.01M654.5 113.8h.01M654.5 120.8h.01M655 120.8h.01M655 117.3h.01M655.5 117.3h.01M655.5 120.8h.01M655.5 113.8h.01M656 117.3h.01M656 120.8h.01M656.5 117.3h.01M656.5 113.8h.01M656.5 120.8h.01M657 117.3h.01M657 120.8h.01M657.5 113.8h.01M657.5 120.8h.01"/>
<path fill="#00f" d="M444.4 115.6L447.2 120.6L441.6 120.6ZM452.6 149.1L455.4 154.1L449.8 154.1ZM465.2 6.5L468.1 11.5L462.4 11.5ZM478.4 159.4L481.2 164.4L475.6 164.4ZM505.5 7.6L508.3 12.6L502.7 12.6ZM513.4 158.5L516.2 163.5L510.6 163.5ZM524.8 45.3L527.6 50.3L522.0 50.3ZM537.2 156.8L540.0 161.8L534.4 161.8ZM563.3 12.1L566.1 17.1L560.5 17.1ZM571.2 159.1L574.0 164.1L568.4 164.1ZM582.3 30.2L585.1 35.2L579.5 35.2ZM594.5 160.2L597.3 165.2L591.7 165.2ZM620.3 8.0L623.1 13.0L617.5 13.0ZM632.3 154.1L635.1 159.1L629.5 159.1ZM643.6 118.4L646.4 123.4L640.8 123.4Z"/>
<text class="t" x="403" y="17.8">Event B</text>
<path class="d" stroke="#000" stroke-width="2.85" d="M128 349.2h.01M128.5 349.2h.01M128.5 351.8h.01M128.5 346.6h.01M129 349.2h.01M129 351.8h.01M129 346.6h.01M129.5 349.2h.01M129.5 351.8h.01M130 349.2h.01M130 346.6h.01M130.5 346.6h.01M130.5 349.2h.01M130.5 351.8h.01M131 349.2h.01M131 351.8h.01M131 346.6h.01M131.5 349.2h.01M131.5 346.6h.01M131.5 351.8h.01M132 346.6h.01M132 349.2h.01M132 351.8h.01M132.5 349.2h.01M132.5 346.6h.01M133 349.2h.01M133 346.6h.01M133.5 349.2h.01M133.5 351.8h.01M134 349.2h.01M134 346.6h.01M134 351.8h.01M134.5 349.2h.01M134.5 346.6h.01M134.5 351.8h.01M135 349.2h.01M135 346.6h.01M135.5 349.2h.01M135.5 346.6h.01M136 349.2h.01M136 346.6h.01M136.5 349.2h.01M136.5 346.6h.01M137 349.2h.01M137 346.6h.01M137 351.8h.01M137.5 349.2h.01M137.5 351.8h.01M137.5 346.6h.01M138 351.8h.01M138 349.2h.01M138 346.6h.01M138.5 349.2h.01M138.5 346.6h.01M139 349.2h.01M139 351.8h.01M139.5 349.2h.01M139.5 351.8h.01M140 349.2h.01M140 351.8h.01M140.5 349.2h.01M140.5 351.8h.01M141 349.2h.01M141 351.8h.01M141.5 349.2h.01M141.5 351.8h.01M142 351.8h.01M142 349.2h.01M142.5 349.2h.01M142.5 351.8h.01M143 351.8h.01M143 349.2h.01M143.5 351.8h.01M143.5 349.2h.01M144 349.2h.01M144 351.8h.01M144.5 349.2h.01M144.5 351.8h.01M144.5 346.6h.01M145 349.2h.01M145 354.5h.01M145 351.8h.01M145.5 349.2h.01M145.5 351.8h.01M145.5 354.5h.01M146 346.6h.01M146 351.8h.01M146 349.2h.01M146.5 349.2h.01M146.5 351.8h.01M147 351.8h.01M147 349.2h.01M147.5 351.8h.01M147.5 349.2h.01M148 349.2h.01M148 351.8h.01M148 354.5h.01M148.5 351.8h.01M148.5 354.5h.01M149 354.5h.01M149 349.2h.01M149 351.8h.01M149.5 351.8h.01M149.5 354.5h.01M149.5 349.2h.01M150 351.8h.01M150 354.5h.01M150.5 351.8h.01M150.5 354.5h.01M151 351.8h.01M151 349.2h.01M151.5 351.8h.01M151.5 354.5h.01M152 349.2h.01M152 351.8h.01M152 354.5h.01M152.5 351.8h.01M152.5 354.5h.01M152.5 349.2h.01M153 351.8h.01M153 354.5h.01M153.5 351.8h.01M153.5 354.5h.01M154 354.5h.01M154 351.8h.01M154 349.2h.01M154.5 351.8h.01M154.5 354.5h.01M155 354.5h.01M155 351.8h.01M155.5 354.5h.01M155.5 351.8h.01M156 351.8h.01M156 354.5h.01M156.5 351.8h.01M156.5 354.5h.01M157 354.5h.01M157 357.1h.01M157 359.7h.01M157 362.3h.01M157.5 362.3h.01M157.5 364.9h.01M157.5 367.5h.01M157.5 370.2h.01M158 370.2h.01M158 372.8h.01M158 375.4h.01M158.5 375.4h.01M158.5 378h.01M158.5 380.6h.01M158.5 383.3h.01M158.5 385.9h.01M159 383.3h.01M159 385.9h.01M159 388.5h.01M159.5 388.5h.01M159.5 385.9h.01M160 385.9h.01M160 383.3h.01M160 380.6h.01M160 378h.01M160 375.4h.01M160 372.8h.01M160 370.2h.01M160.5 370.2h.01M160.5 372.8h.01M160.5 367.5h.01M160.5 364.9h.01M160.5 362.3h.01M160.5 359.7h.01M160.5 357.1h.01M160.5 354.5h.01M161 354.5h.01M161 351.8h.01M161 349.2h.01M161 346.6h.01M161 344h.01M161 341.4h.01M161 338.8h.01M161 336.1h.01M161 333.5h.01M161 330.9h.01M161.5 330.9h.01M161.5 328.3h.01M161.5 325.7h.01M161.5 323.1h.01M161.5 320.4h.01M161.5 317.8h.01M161.5 315.2h.01M161.5 312.6h.01M161.5 310h.01M161.5 307.4h.01M161.5 304.7h.01M161.5 302.1h.01M161.5 299.5h.01M161.5 296.9h.01M161.5 294.3h.01M161.5 291.7h.01M161.5 289h.01M161.5 286.4h.01M162 286.4h.01M162 283.8h.01M162 281.2h.01M162 278.6h.01M162 276h.01M162 273.3h.01M162.5 273.3h.01M162.5 270.7h.01M162.5 268.1h.01M162.5 265.5h.01M163 265.5h.01M163 268.1h.01M163 262.9h.01M163 260.3h.01M163.5 260.3h.01M163.5 257.6h.01M163.5 255h.01M163.5 252.4h.01M164 252.4h.01M164 249.8h.01M164.5 255h.01M164.5 252.4h.01M164.5 257.6h.01M164.5 260.3h.01M164.5 262.9h.01M165 262.9h.01M165 265.5h.01M165 268.1h.01M165 270.7h.01M165 273.3h.01M165 276h.01M165 278.6h.01M165 281.2h.01M165 283.8h.01M165 286.4h.01M165 289h.01M165 291.7h.01M165 294.3h.01M165 296.9h.01M165.5 296.9h.01M165.5 299.5h.01M165.5 302.1h.01M165.5 304.7h.01M165.5 307.4h.01M165.5 310h.01M165.5 312.6h.01M165.5 315.2h.01M165.5 317.8h.01M165.5 320.4h.01M165.5 323.1h.01M165.5 325.7h.01M165.5 328.3h.01M165.5 330.9h.01M165.5 333.5h.01M165.5 336.1h.01M166 336.1h.01M166 338.8h.01M166 341.4h.01M166 344h.01M166 346.6h.01M166 349.2h.01M166 351.8h.01M166 354.5h.01M166.5 354.5h.01M166.5 357.1h.01M166.5 359.7h.01M166.5 362.3h.01M166.5 364.9h.01M166.5 367.5h.01M166.5 370.2h.01M166.5 372.8h.01M167 372.8h.01M167 375.4h.01M167 378h.01M167 380.6h.01M167 383.3h.01M167 385.9h.01M167 388.5h.01M167.5 388.5h.01M167.5 391.1h.01M167.5 393.7h.01M167.5 396.3h.01M167.5 399h.01M168 396.3h.01M168 399h.01M168 401.6h.01M168 404.2h.01M168.5 404.2h.01M169 404.2h.01M169 401.6h.01M169 399h.01M169.5 399h.01M169.5 396.3h.01M169.5 393.7h.01M170 393.7h.01M170 391.1h.01M170 388.5h.01M170 385.9h.01M170.5 385.9h.01M170.5 383.3h.01M170.5 380.6h.01M171 380.6h.01M171 378h.01M171 375.4h.01M171.5 378h.01M171.5 375.4h.01M171.5 380.6h.01M172 380.6h.01M172 383.3h.01M172 385.9h.01M172 388.5h.01M172.5 388.5h.01M172.5 391.1h.01M172.5 393.7h.01M172.5 396.3h.01M172.5 399h.01M173 396.3h.01M173 399h.01M173 393.7h.01M173 391.1h.01M173 388.5h.01M173.5 388.5h.01M173.5 385.9h.01M173.5 383.3h.01M173.5 380.6h.01M173.5 378h.01M173.5 375.4h.01M173.5 372.8h.01M173.5 370.2h.01M173.5 367.5h.01M173.5 364.9h.01M173.5 362.3h.01M173.5 359.7h.01M174 359.7h.01M174 357.1h.01M174 354.5h.01M174 351.8h.01M174 349.2h.01M174 346.6h.01M174 344h.01M174 341.4h.01M174 338.8h.01M174 336.1h.01M174 333.5h.01M174 330.9h.01M174 328.3h.01M174.5 328.3h.01M174.5 325.7h.01M174.5 323.1h.01M174.5 320.4h.01M174.5 317.8h.01M174.5 315.2h.01M174.5 312.6h.01M174.5 310h.01M174.5 307.4h.01M174.5 304.7h.01M174.5 302.1h.01M174.5 299.5h.01M174.5 296.9h.01M174.5 294.3h.01M174.5 291.7h.01M174.5 289h.01M175 286.4h.01M175 283.8h.01M175 281.2h.01M175 278.6h.01M175 276h.01M175 273.3h.01M175.5 276h.01M175.5 273.3h.01M175.5 270.7h.01M175.5 268.1h.01M176 268.1h.01M176 265.5h.01M176 262.9h.01M176 260.3h.01M176 257.6h.01M176.5 257.6h.01M176.5 255h.01M176.5 252.4h.01M177 252.4h.01M177 249.8h.01M177 255h.01M177 257.6h.01M177.5 257.6h.01M177.5 260.3h.01M177.5 262.9h.01M177.5 265.5h.01M177.5 268.1h.01M177.5 270.7h.01M177.5 273.3h.01M177.5 276h.01M177.5 278.6h.01M177.5 283.8h.01M177.5 286.4h.01M177.5 289h.01M177.5 291.7h.01M177.5 294.3h.01M177.5 296.9h.01M177.5 299.5h.01M178 299.5h.01M178 302.1h.01M178 304.7h.01M178 307.4h.01M178 310h.01M178 312.6h.01M178 315.2h.01M178 317.8h.01M178 320.4h.01M178 323.1h.01M178 325.7h.01M178 328.3h.01M178 330.9h.01M178 333.5h.01M178 336.1h.01M178 338.8h.01M178 341.4h.01M178 344h.01M178 346.6h.01M178 349.2h.01M178 351.8h.01M178.5 351.8h.01M178.5 354.5h.01M178.5 357.1h.01M178.5 359.7h.01M178.5 362.3h.01M178.5 364.9h.01M178.5 367.5h.01M178.5 370.2h.01M178.5 372.8h.01M178.5 375.4h.01M178.5 378h.01M178.5 380.6h.01M178.5 383.3h.01M178.5 385.9h.01M179 385.9h.01M179 388.5h.01M179 391.1h.01M179 393.7h.01M179 396.3h.01M179 399h.01M179 401.6h.01M179.5 399h.01M179.5 396.3h.01M179.5 393.7h.01M179.5 391.1h.01M180 388.5h.01M180 385.9h.01M180 383.3h.01M180 380.6h.01M180 378h.01M180 375.4h.01M180 372.8h.01M180 370.2h.01M180 367.5h.01M180.5 367.5h.01M180.5 364.9h.01M180.5 362.3h.01M180.5 359.7h.01M180.5 357.1h.01M180.5 354.5h.01M180.5 351.8h.01M180.5 349.2h.01M180.5 346.6h.01M181 346.6h.01M181 344h.01M181 341.4h.01M181 338.8h.01M181 336.1h.01M181 333.5h.01M181 330.9h.01M181 328.3h.01M181.5 328.3h.01M181.5 325.7h.01M181.5 323.1h.01M181.5 320.4h.01M181.5 317.8h.01M181.5 315.2h.01M181.5 312.6h.01M181.5 310h.01M182 310h.01M182 307.4h.01M182 304.7h.01M182 302.1h.01M182 299.5h.01M182 296.9h.01M182.5 296.9h.01M182.5 294.3h.01M182.5 291.7h.01M182.5 289h.01M182.5 286.4h.01M183 286.4h.01M183 283.8h.01M183 289h.01M183.5 286.4h.01M183.5 289h.01M183.5 291.7h.01M183.5 294.3h.01M183.5 296.9h.01M183.5 299.5h.01M183.5 302.1h.01M183.5 304.7h.01M183.5 307.4h.01M183.5 310h.01M184 310h.01M184 312.6h.01M184 315.2h.01M184 317.8h.01M184 320.4h.01M184 323.1h.01M184 325.7h.01M184 328.3h.01M184 330.9h.01M184 333.5h.01M184 336.1h.01M184.5 336.1h.01M184.5 333.5h.01M184.5 338.8h.01M184.5 341.4h.01M184.5 344h.01M184.5 346.6h.01M184.5 349.2h.01M184.5 351.8h.01M185 351.8h.01M185 354.5h.01M185 357.1h.01M185 359.7h.01M185 362.3h.01M185 364.9h.01M185 367.5h.01M185.5 367.5h.01M185.5 370.2h.01M185.5 372.8h.01M185.5 375.4h.01M185.5 378h.01M185.5 380.6h.01M186 380.6h.01M186 383.3h.01M186 385.9h.01M186 388.5h.01M186 391.1h.01M186 393.7h.01M186.5 396.3h.01M186.5 393.7h.01M186.5 399h.01M186.5 401.6h.01M187 401.6h.01M187 404.2h.01M187.5 401.6h.01M187.5 404.2h.01M187.5 399h.01M188 399h.01M188 396.3h.01M188 393.7h.01M188 391.1h.01M188 388.5h.01M188.5 388.5h.01M188.5 385.9h.01M188.5 383.3h.01M188.5 380.6h.01M189 380.6h.01M189 378h.01M189 375.4h.01M189 372.8h.01M189.5 372.8h.01M189.5 375.4h.01M190 375.4h.01M190 378h.01M190 380.6h.01M190 383.3h.01M190.5 380.6h.01M190.5 383.3h.01M190.5 385.9h.01M190.5 388.5h.01M191 391.1h.01M191 393.7h.01M191 396.3h.01M191.5 393.7h.01M191.5 396.3h.01M191.5 391.1h.01M191.5 388.5h.01M192 388.5h.01M192 385.9h.01M192 383.3h.01M192 380.6h.01M192 378h.01M192 375.4h.01M192 372.8h.01M192 370.2h.01M192 367.5h.01M192 364.9h.01M192 362.3h.01M192 359.7h.01M192.5 359.7h.01M192.5 357.1h.01M192.5 354.5h.01M192.5 351.8h.01M192.5 349.2h.01M192.5 346.6h.01M192.5 344h.01M192.5 341.4h.01M192.5 338.8h.01M192.5 336.1h.01M192.5 333.5h.01M192.5 330.9h.01M192.5 328.3h.01M193 328.3h.01M193 325.7h.01M193 323.1h.01M193 320.4h.01M193 317.8h.01M193 315.2h.01M193 312.6h.01M193 310h.01M193 307.4h.01M193 304.7h.01M193 302.1h.01M193 299.5h.01M193 296.9h.01M193 294.3h.01M193.5 294.3h.01M193.5 291.7h.01M193.5 289h.01M193.5 286.4h.01M193.5 283.8h.01M193.5 281.2h.01M193.5 278.6h.01M193.5 276h.01M194 276h.01M194 273.3h.01M194 270.7h.01M194 268.1h.01M194 265.5h.01M194.5 265.5h.01M194.5 262.9h.01M194.5 260.3h.01M194.5 257.6h.01M194.5 255h.01M195 255h.01M195 252.4h.01M195 249.8h.01M195.5 252.4h.01M195.5 255h.01M195.5 257.6h.01M195.5 260.3h.01M195.5 262.9h.01M195.5 265.5h.01M196 265.5h.01M196 268.1h.01M196 270.7h.01M196 273.3h.01M196 276h.01M196 278.6h.01M196 281.2h.01M196 283.8h.01M196 286.4h.01M196 289h.01M196 291.7h.01M196 294.3h.01M196 296.9h.01M196 299.5h.01M196 302.1h.01M196 304.7h.01M196 307.4h.01M196 310h.01M196 312.6h.01M196 315.2h.01M196 317.8h.01M196.5 317.8h.01M196.5 320.4h.01M196.5 323.1h.01M196.5 325.7h.01M196.5 328.3h.01M196.5 330.9h.01M196.5 333.5h.01M196.5 336.1h.01M196.5 338.8h.01M196.5 341.4h.01M196.5 344h.01M196.5 346.6h.01M196.5 349.2h.01M196.5 351.8h.01M196.5 354.5h.01M196.5 357.1h.01M196.5 359.7h.01M197 359.7h.01M197 362.3h.01M197 364.9h.01M197 367.5h.01M197 370.2h.01M197 372.8h.01M197 375.4h.01M197 378h.01M197 380.6h.01M197 383.3h.01M197 385.9h.01M197 388.5h.01M197 391.1h.01M197 393.7h.01M197.5 393.7h.01M197.5 396.3h.01M197.5 399h.01M197.5 401.6h.01M197.5 404.2h.01M198 401.6h.01M198 399h.01M198 396.3h.01M198 393.7h.01M198 391.1h.01M198 388.5h.01M198 385.9h.01M198 383.3h.01M198.5 380.6h.01M198.5 378h.01M198.5 375.4h.01M198.5 372.8h.01M198.5 370.2h.01M198.5 367.5h.01M198.5 364.9h.01M198.5 362.3h.01M198.5 359.7h.01M198.5 357.1h.01M198.5 354.5h.01M198.5 351.8h.01M199 351.8h.01M199 349.2h.01M199 346.6h.01M199 344h.01M199 341.4h.01M199 338.8h.01M199 336.1h.01M199 333.5h.01M199 330.9h.01M199 328.3h.01M199 325.7h.01M199.5 325.7h.01M199.5 323.1h.01M199.5 320.4h.01M199.5 317.8h.01M199.5 315.2h.01M199.5 312.6h.01M199.5 310h.01M199.5 307.4h.01M199.5 304.7h.01M199.5 302.1h.01M200 302.1h.01M200 299.5h.01M200 296.9h.01M200 294.3h.01M200 291.7h.01M200 289h.01M200 286.4h.01M200 283.8h.01M200 281.2h.01M200 278.6h.01M200.5 278.6h.01M200.5 276h.01M200.5 273.3h.01M200.5 270.7h.01M200.5 268.1h.01M201 268.1h.01M201 270.7h.01M201 273.3h.01M201 276h.01M201 278.6h.01M201 281.2h.01M201 283.8h.01M201 286.4h.01M201.5 286.4h.01M201.5 289h.01M201.5 291.7h.01M201.5 294.3h.01M201.5 296.9h.01M201.5 299.5h.01M201.5 302.1h.01M201.5 304.7h.01M201.5 307.4h.01M201.5 310h.01M201.5 312.6h.01M201.5 315.2h.01M201.5 317.8h.01M201.5 320.4h.01M202 320.4h.01M202 323.1h.01M202 325.7h.01M202 328.3h.01M202 330.9h.01M202 333.5h.01M202 336.1h.01M202 338.8h.01M202 341.4h.01M202.5 341.4h.01M202.5 344h.01M202.5 346.6h.01M202.5 349.2h.01M202.5 351.8h.01M202.5 354.5h.01M202.5 357.1h.01M202.5 359.7h.01M203 359.7h.01M203 362.3h.01M203 364.9h.01M203 367.5h.01M203 370.2h.01M203 372.8h.01M203 375.4h.01M203.5 378h.01M203.5 380.6h.01M203.5 383.3h.01M203.5 385.9h.01M203.5 388.5h.01M203.5 391.1h.01M204 391.1h.01M204 393.7h.01M204 396.3h.01M204 399h.01M204 401.6h.01M204.5 401.6h.01M204.5 404.2h.01M204.5 406.8h.01M205 406.8h.01M205 404.2h.01M205 401.6h.01M205.5 401.6h.01M205.5 399h.01M205.5 396.3h.01M205.5 393.7h.01M206 393.7h.01M206 391.1h.01M206 388.5h.01M206 385.9h.01M206 383.3h.01M206.5 383.3h.01M206.5 380.6h.01M206.5 378h.01M207 378h.01M207 375.4h.01M207.5 378h.01M207.5 380.6h.01M207.5 383.3h.01M208 383.3h.01M208 385.9h.01M208 388.5h.01M208 391.1h.01M208.5 391.1h.01M208.5 388.5h.01M208.5 393.7h.01M208.5 396.3h.01M209 393.7h.01M209 396.3h.01M209.5 393.7h.01M209.5 391.1h.01M209.5 388.5h.01M209.5 385.9h.01M209.5 383.3h.01M209.5 380.6h.01M209.5 378h.01M209.5 375.4h.01M209.5 372.8h.01M209.5 370.2h.01M210 370.2h.01M210 367.5h.01M210 364.9h.01M210 362.3h.01M210 359.7h.01M210 357.1h.01M210 354.5h.01M210 351.8h.01M210 349.2h.01M210 346.6h.01M210 344h.01M210.5 341.4h.01M210.5 338.8h.01M210.5 336.1h.01M210.5 333.5h.01M210.5 330.9h.01M210.5 328.3h.01M210.5 325.7h.01M210.5 323.1h.01M210.5 320.4h.01M210.5 317.8h.01M210.5 315.2h.01M210.5 312.6h.01M210.5 310h.01M211 307.4h.01M211 304.7h.01M211 302.1h.01M211 299.5h.01M211 296.9h.01M211 294.3h.01M211 291.7h.01M211 289h.01M211 286.4h.01M211 283.8h.01M211 281.2h.01M211.5 281.2h.01M211.5 278.6h.01M211.5 276h.01M211.5 273.3h.01M211.5 270.7h.01M212 268.1h.01M212 265.5h.01M212 262.9h.01M212 260.3h.01M212 257.6h.01M212.5 257.6h.01M212.5 255h.01M212.5 252.4h.01M212.5 249.8h.01M212.5 247.2h.01M213 247.2h.01M213 249.8h.01M213 252.4h.01M213 255h.01M213.5 255h.01M213.5 257.6h.01M213.5 260.3h.01M213.5 262.9h.01M213.5 265.5h.01M213.5 268.1h.01M213.5 270.7h.01M213.5 273.3h.01M213.5 276h.01M213.5 278.6h.01M213.5 281.2h.01M214 281.2h.01M214 283.8h.01M214 286.4h.01M214 289h.01M214 291.7h.01M214 294.3h.01M214 296.9h.01M214 299.5h.01M214 302.1h.01M214 304.7h.01M214 307.4h.01M214 310h.01M214 312.6h.01M214 315.2h.01M214 317.8h.01M214 320.4h.01M214 323.1h.01M214 325.7h.01M214 328.3h.01M214.5 328.3h.01M214.5 330.9h.01M214.5 333.5h.01M214.5 336.1h.01M214.5 338.8h.01M214.5 341.4h.01M214.5 344h.01M214.5 346.6h.01M214.5 349.2h.01M214.5 351.8h.01M214.5 354.5h.01M215 354.5h.01M215 357.1h.01M215 359.7h.01M215 362.3h.01M215 364.9h.01M215 367.5h.01M215 370.2h.01M215 372.8h.01M215 375.4h.01M215.5 375.4h.01M215.5 378h.01M215.5 380.6h.01M215.5 383.3h.01M215.5 385.9h.01M215.5 388.5h.01M215.5 391.1h.01M215.5 393.7h.01M216 393.7h.01M216 396.3h.01M216 399h.01M216 401.6h.01M216 404.2h.01M216.5 404.2h.01M217 401.6h.01M217 404.2h.01M217 399h.01M217.5 399h.01M217.5 396.3h.01M217.5 393.7h.01M217.5 391.1h.01M218 391.1h.01M218 388.5h.01M218 385.9h.01M218 383.3h.01M218.5 383.3h.01M218.5 385.9h.01M218.5 380.6h.01M218.5 378h.01M219 378h.01M219 375.4h.01M219 372.8h.01M219.5 372.8h.01M219.5 370.2h.01M219.5 367.5h.01M219.5 364.9h.01M220 364.9h.01M220 362.3h.01M220 359.7h.01M220.5 362.3h.01M220.5 359.7h.01M220.5 357.1h.01M220.5 354.5h.01M221 357.1h.01M221 359.7h.01M221 354.5h.01M221.5 359.7h.01M221.5 354.5h.01M221.5 357.1h.01M221.5 351.8h.01M222 354.5h.01M222 357.1h.01M222 359.7h.01M222 351.8h.01M222.5 357.1h.01M222.5 359.7h.01M222.5 351.8h.01M222.5 354.5h.01M223 359.7h.01M223 357.1h.01M223 354.5h.01M223 351.8h.01M223.5 351.8h.01M223.5 357.1h.01M223.5 359.7h.01M224 359.7h.01M224 354.5h.01M224 357.1h.01M224 351.8h.01M224.5 357.1h.01M224.5 354.5h.01M224.5 359.7h.01M225 357.1h.01M225 359.7h.01M225 354.5h.01M225.5 357.1h.01M225.5 354.5h.01M225.5 351.8h.01M226 351.8h.01M226 354.5h.01M226 357.1h.01M226 362.3h.01M226.5 351.8h.01M226.5 354.5h.01M226.5 359.7h.01M226.5 357.1h.01M227 357.1h.01M227 354.5h.01M227 359.7h.01M227.5 354.5h.01M227.5 357.1h.01M227.5 351.8h.01M227.5 359.7h.01M228 354.5h.01M228 357.1h.01M228 359.7h.01M228.5 354.5h.01M228.5 357.1h.01M229 354.5h.01M229 359.7h.01M229 357.1h.01M229 351.8h.01M229.5 354.5h.01M229.5 357.1h.01M229.5 359.7h.01M230 357.1h.01M230 354.5h.01M230.5 362.3h.01M230.5 357.1h.01M230.5 354.5h.01M230.5 359.7h.01M231 354.5h.01M231 357.1h.01M231 351.8h.01M231.5 354.5h.01M231.5 357.1h.01M231.5 351.8h.01M231.5 359.7h.01M232 354.5h.01M232 357.1h.01M232 351.8h.01M232.5 354.5h.01M232.5 351.8h.01M232.5 357.1h.01M233 359.7h.01M233 354.5h.01M233 357.1h.01M233.5 354.5h.01M233.5 357.1h.01M233.5 359.7h.01M234 354.5h.01M234 359.7h.01M234 357.1h.01M234.5 354.5h.01M234.5 351.8h.01M234.5 359.7h.01M234.5 357.1h.01M235 354.5h.01M235 357.1h.01M235 359.7h.01M235 351.8h.01M235.5 354.5h.01M235.5 351.8h.01M235.5 357.1h.01M235.5 359.7h.01M236 357.1h.01M236 354.5h.01M236 351.8h.01M236.5 357.1h.01M236.5 354.5h.01M236.5 359.7h.01M237 357.1h.01M237 351.8h.01M237 354.5h.01M237.5 354.5h.01M237.5 357.1h.01M237.5 359.7h.01M238 357.1h.01M238 351.8h.01M238 354.5h.01M238.5 357.1h.01M238.5 354.5h.01M238.5 351.8h.01M239 354.5h.01M239 357.1h.01M239.5 354.5h.01M239.5 357.1h.01M239.5 359.7h.01M240 357.1h.01M240 354.5h.01M240 359.7h.01M240 351.8h.01M240.5 354.5h.01M240.5 357.1h.01M240.5 351.8h.01M240.5 359.7h.01M241 357.1h.01M241 354.5h.01M241.5 357.1h.01M241.5 354.5h.01M241.5 359.7h.01M242 359.7h.01M242 354.5h.01M242 357.1h.01M242 351.8h.01M242.5 359.7h.01M242.5 357.1h.01M242.5 354.5h.01M242.5 351.8h.01M243 357.1h.01M243 354.5h.01M243 359.7h.01M243.5 359.7h.01M243.5 351.8h.01M243.5 354.5h.01M243.5 357.1h.01M244 354.5h.01M244 359.7h.01M244 357.1h.01M244.5 354.5h.01M244.5 359.7h.01M244.5 357.1h.01M245 354.5h.01M245 359.7h.01M245 357.1h.01M245 351.8h.01M245.5 357.1h.01M245.5 354.5h.01M246 354.5h.01M246 357.1h.01M246 359.7h.01M246.5 351.8h.01M246.5 357.1h.01M246.5 354.5h.01M247 357.1h.01M247 354.5h.01"/>
<path class="d" stroke="#00cd00" stroke-width="1.9" d="M76.5 356.7h.01M76.5 353.4h.01M76.75 353.4h.01M77 350.1h.01M77 353.4h.01M77 356.7h.01M77.25 356.7h.01M77.25 353.4h.01M77.5 350.1h.01M77.75 350.1h.01M77.75 353.4h.01M78 353.4h.01M78.25 353.4h.01M78.25 350.1h.01M78.5 350.1h.01M78.5 353.4h.01M78.75 353.4h.01M78.75 350.1h.01M79 353.4h.01M79.25 353.4h.01M79.25 350.1h.01M79.5 350.1h.01M79.5 353.4h.01M79.75 353.4h.01M80 353.4h.01M80 350.1h.01M80.25 353.4h.01M80.5 353.4h.01M80.5 356.7h.01M80.75 353.4h.01M80.75 356.7h.01M81 356.7h.01M81.25 356.7h.01M81.25 353.4h.01M81.5 356.7h.01M81.5 353.4h.01M81.75 353.4h.01M81.75 356.7h.01M82 356.7h.01M82.25 356.7h.01M82.25 353.4h.01M82.5 356.7h.01M82.75 356.7h.01M82.75 353.4h.01M83 353.4h.01M83 356.7h.01M83.25 356.7h.01M83.25 360h.01M83.5 356.7h.01M83.75 356.7h.01M84 356.7h.01M84 353.4h.01M84.25 356.7h.01M84.5 356.7h.01M84.75 356.7h.01M84.5 360h.01M84.75 360h.01M85 356.7h.01M85 353.4h.01M85.25 353.4h.01M85.25 356.7h.01M85.5 356.7h.01M85.75 356.7h.01M86 353.4h.01M86 360h.01M86 356.7h.01M86.25 356.7h.01M86.5 356.7h.01M86.75 356.7h.01M86.75 360h.01M87 360h.01M87 353.4h.01M87.25 353.4h.01M87.25 356.7h.01M87.5 353.4h.01M87.5 356.7h.01M87.75 353.4h.01M87.75 356.7h.01M88 353.4h.01M88 356.7h.01M88.25 353.4h.01M88.25 356.7h.01M88.5 353.4h.01M88.5 356.7h.01M88.75 356.7h.01M88.75 353.4h.01M89 356.7h.01M89.25 353.4h.01M89.25 350.1h.01M89.5 350.1h.01M89.5 353.4h.01M89.5 356.7h.01M89.75 353.4h.01M89.75 356.7h.01M90 353.4h.01M90.25 353.4h.01M90.5 353.4h.01M90.5 356.7h.01M90.75 353.4h.01M90.75 356.7h.01M91 353.4h.01M91 356.7h.01M91.25 356.7h.01M91.5 353.4h.01M91.75 353.4h.01M91.75 356.7h.01M92 356.7h.01M92 353.4h.01M92.25 353.4h.01M92.25 356.7h.01M92.5 353.4h.01M92.5 356.7h.01M92.75 353.4h.01M93 353.4h.01M93 350.1h.01M93.25 353.4h.01M93.5 353.4h.01M93.75 350.1h.01M94 350.1h.01M93.75 353.4h.01M94 353.4h.01M94 356.7h.01M94.25 356.7h.01M94.25 353.4h.01M94.25 356.8h.01M94.5 356.8h.01M94.75 356.8h.01M95 353.4h.01M95 356.8h.01M95.25 353.4h.01M95.25 356.8h.01M95.5 356.8h.01M95.75 356.8h.01M96 356.8h.01M96.25 356.8h.01M96 360.1h.01M96.25 360.1h.01M96.5 360.1h.01M96.5 363.4h.01M96.75 360.1h.01M96.75 363.4h.01M97 363.4h.01M97 366.7h.01M97.25 363.4h.01M97.25 366.7h.01M97.5 366.7h.01M97.75 366.7h.01M97.75 370h.01M97.75 373.3h.01M98 370h.01M98 373.3h.01M98.25 370h.01M98.25 373.3h.01M98.5 373.3h.01M98.5 376.6h.01M98.75 373.3h.01M98.75 376.6h.01M99 376.6h.01M99.25 376.6h.01M99.25 379.9h.01M99.5 376.6h.01M99.5 379.9h.01M99.75 379.9h.01M99.75 383.3h.01M100 383.3h.01M100.25 383.3h.01M100.5 383.3h.01M100.5 386.6h.01M100.75 383.3h.01M100.75 386.6h.01M100.75 389.9h.01M101 389.9h.01M101 386.6h.01M101.25 386.6h.01M101.5 386.6h.01M101.25 389.9h.01M101.5 389.9h.01M101.75 389.9h.01M102 389.9h.01M102.25 389.9h.01M102.25 386.6h.01M102.5 389.9h.01M102.75 386.6h.01M103 386.6h.01M103.25 386.6h.01M103.25 383.3h.01M103.5 383.3h.01M103.75 383.3h.01M103.75 380h.01M104 380h.01M104 376.6h.01M104.25 376.7h.01M104.5 373.3h.01M104.5 376.7h.01M104.75 370h.01M105 370h.01M105 366.7h.01M105.25 366.7h.01M105.5 363.4h.01M105.75 360.1h.01M106 356.8h.01M106.25 353.5h.01M106.5 350.2h.01M106.75 346.9h.01M107 346.9h.01M107 343.6h.01M107.25 340.3h.01M107.5 336.9h.01M107.75 333.6h.01M108 330.3h.01M108 327h.01M108.25 327h.01M108.25 323.7h.01M108.5 320.4h.01M108.5 317.1h.01M108.75 313.8h.01M108.75 310.5h.01M109 310.5h.01M109 307.2h.01M109.25 303.8h.01M109.25 300.5h.01M109.5 297.2h.01M109.5 293.9h.01M109.75 293.9h.01M109.75 290.6h.01M110 287.3h.01M110.25 284h.01M110.25 280.7h.01M110.5 280.7h.01M110.75 280.7h.01M110.75 277.4h.01M111 277.4h.01M111.25 277.4h.01M111.25 274.1h.01M111.5 274.1h.01M111.75 270.8h.01M111.75 274.1h.01M112 270.8h.01M112.25 270.8h.01M112.25 267.4h.01M112.5 267.4h.01M112.75 267.4h.01M112.75 270.8h.01M113 267.4h.01M113 267.5h.01M113.25 267.5h.01M113.25 264.1h.01M113.5 267.5h.01M113.5 264.1h.01M113.75 264.1h.01M114 260.8h.01M114 264.1h.01M114.25 264.1h.01M114.25 260.8h.01M114.5 260.8h.01M114.5 257.5h.01M114.75 257.5h.01M114.75 260.8h.01M115 257.5h.01M115.25 257.5h.01M115.25 254.2h.01M115.5 254.2h.01M115.75 254.2h.01M116 254.2h.01M116 250.9h.01M116.25 250.9h.01M116.5 250.9h.01M116.25 254.2h.01M116.5 254.2h.01M116.75 254.2h.01M116.75 250.9h.01M117 250.9h.01M117 254.2h.01M117.25 254.2h.01M117.5 254.2h.01M117.75 254.2h.01M117.75 257.5h.01M118 257.5h.01M118 260.8h.01M118 260.9h.01M118.25 260.9h.01M118.25 264.2h.01M118.5 260.9h.01M118.5 264.2h.01M118.5 267.5h.01M118.75 267.5h.01M118.75 270.8h.01M118.75 274.1h.01M119 274.1h.01M119 277.4h.01M119 280.7h.01M119 284h.01M119 287.3h.01M119.25 287.3h.01M119 290.6h.01M119.25 290.6h.01M119.25 294h.01M119.25 297.3h.01M119.25 300.6h.01M119.25 303.9h.01M119.25 307.2h.01M119.25 310.5h.01M119.5 310.5h.01M119.5 313.8h.01M119.5 317.1h.01M119.5 320.4h.01M119.5 323.7h.01M119.75 323.7h.01M119.5 327.1h.01M119.75 327.1h.01M119.75 330.4h.01M119.75 333.7h.01M120 330.4h.01M120 333.7h.01M120 337h.01M120.25 337h.01M120 340.3h.01M120.25 340.3h.01M120.25 343.6h.01M120.5 340.3h.01M120.5 343.6h.01M120.5 346.9h.01M120.75 346.9h.01M120.5 350.2h.01M120.75 350.2h.01M121 350.2h.01M120.75 353.5h.01M121 353.5h.01M121.25 353.5h.01M121 356.9h.01M121.25 356.9h.01M121.25 360.2h.01M121.5 360.2h.01M121.5 363.5h.01M121.75 363.5h.01M121.75 366.8h.01M122 366.8h.01M122 370.1h.01M122.25 370.1h.01M122.25 373.4h.01M122.5 373.4h.01M122.5 376.7h.01M122.75 373.4h.01M122.75 376.7h.01M122.75 380h.01M123 380h.01M123 383.3h.01M123.25 383.3h.01M123.25 386.7h.01M123.5 386.7h.01M123.75 386.7h.01M123.75 390h.01M124 390h.01M124 393.3h.01M124.25 393.3h.01M124.25 390h.01M124.5 390h.01M124.5 393.3h.01M124.5 396.6h.01M124.75 396.6h.01M124.75 393.3h.01M125 396.6h.01M125.25 396.6h.01M125.5 396.6h.01M125.25 399.9h.01M125.5 399.9h.01M125.75 399.9h.01M125.75 396.6h.01M126 399.9h.01M126.25 399.9h.01M126.25 396.6h.01M126.5 396.6h.01M126.5 399.9h.01M126.75 399.9h.01M126.75 396.6h.01M127 396.6h.01M127 399.9h.01M127.25 399.9h.01M127.5 396.6h.01M127.5 399.9h.01M127.75 396.6h.01M127.75 399.9h.01M128 396.6h.01M128 399.9h.01M128.25 399.9h.01M128.25 396.6h.01M128.5 393.3h.01M128.5 396.6h.01M128.75 396.6h.01M129 396.6h.01M129 393.3h.01M129.25 393.3h.01M129.25 396.6h.01M129.5 393.3h.01M129.75 390h.01M130 390h.01M129.75 393.3h.01M130 393.3h.01M130.25 390h.01M130.25 393.3h.01M130.5 390h.01M130.75 390h.01M130.75 386.7h.01M131 386.7h.01M131 390h.01M131.25 390h.01M131.25 386.7h.01M131.5 386.7h.01M131.75 386.7h.01M132 383.4h.01M132 386.7h.01M132.25 383.4h.01M132.25 386.7h.01M132.5 383.4h.01M132.75 383.4h.01M133 383.4h.01M133.25 380.1h.01M133.5 380.1h.01M133.5 383.4h.01M133.75 380.1h.01M134 380.1h.01M134 376.8h.01M134.25 380.1h.01M134.25 376.8h.01M134.5 376.8h.01M134.75 376.8h.01M134.5 380.1h.01M134.75 380.1h.01M135 376.8h.01M135.25 376.8h.01M135 380.1h.01M135.25 380.1h.01M135.5 376.8h.01M135.75 376.8h.01M135.75 380.1h.01M136 376.8h.01M136 380.1h.01M136.25 376.8h.01M136.25 380.1h.01M136.5 380.1h.01M136.5 376.8h.01M136.75 380.1h.01M136.75 376.8h.01M137 376.8h.01M137 380.1h.01M137.25 380.1h.01M137.25 383.4h.01M137.5 380.1h.01M137.5 383.4h.01M137.75 383.4h.01M138 383.4h.01M138.25 383.4h.01M138.25 386.7h.01M138.5 386.7h.01M138.5 390h.01M138.75 390h.01M138.75 386.7h.01M139 390h.01M139 393.3h.01M139.25 390h.01M139.25 393.3h.01M139.5 393.3h.01M139.75 390h.01M139.75 393.3h.01M140 393.3h.01M140 390h.01M140.25 390h.01M140.25 393.3h.01M140 396.7h.01M140.25 396.7h.01M140.5 393.3h.01M140.5 390h.01M140.75 390h.01M140.75 393.3h.01M141 393.3h.01M141 390h.01M141.25 390h.01M141.5 386.7h.01M141.75 386.7h.01M141.75 383.4h.01M142 383.4h.01M142 380.1h.01M142.25 380.1h.01M142.25 376.8h.01M142.5 376.8h.01M142.75 373.5h.01M142.75 370.2h.01M143 370.2h.01M143 366.9h.01M143.25 366.9h.01M143.25 363.6h.01M143.5 363.6h.01M143.5 360.3h.01M143.75 360.3h.01M143.75 356.9h.01M144 356.9h.01M144 353.6h.01M144.25 353.6h.01M144.25 350.3h.01M144.5 347h.01M144.75 343.7h.01M145 340.4h.01M145.25 337.1h.01M145.5 333.8h.01M145.5 330.5h.01M145.75 330.5h.01M145.75 327.2h.01M146 327.2h.01M146 323.9h.01M146.25 320.5h.01M146.5 317.2h.01M146.5 313.9h.01M146.75 310.6h.01M146.75 307.3h.01M147 307.3h.01M147 304h.01M147.25 304h.01M147.25 300.7h.01M147.5 297.4h.01M147.75 294.1h.01M147.75 290.8h.01M148 290.8h.01M148 287.5h.01M148.25 287.5h.01M148.5 284.1h.01M148.5 280.8h.01M148.75 280.8h.01M149 280.8h.01M149 277.5h.01M149.25 277.5h.01M149.5 277.5h.01M149.5 274.2h.01M149.75 274.2h.01M150 274.2h.01M150.25 270.9h.01M150.25 274.2h.01M150.5 274.2h.01M150.5 270.9h.01M150.75 270.9h.01M150.75 267.6h.01M151 267.6h.01M151.25 267.6h.01M151.25 264.3h.01M151.5 267.6h.01M151.5 264.3h.01M151.75 264.3h.01M152 264.3h.01M152 261h.01M152.25 261h.01M152.25 264.3h.01M152.5 261h.01M152.5 264.3h.01M152.75 261h.01M153 257.7h.01M153 261h.01M153.25 261h.01M153.25 257.7h.01M153.5 257.7h.01M153.75 257.7h.01M153.75 254.4h.01M154 254.4h.01M154 251.1h.01M154.25 251.1h.01M154.5 251.1h.01M154.5 254.4h.01M154.75 254.4h.01M155 251.1h.01M155 254.4h.01M155.25 251.1h.01M155.25 254.4h.01M155.5 254.4h.01M155.75 254.4h.01M155.75 257.7h.01M156 257.7h.01M156.25 257.7h.01M156.25 261h.01M156.5 261h.01M156.25 264.3h.01M156.5 264.3h.01M156.75 264.3h.01M156.75 267.6h.01M156.75 270.9h.01M156.75 274.2h.01M157 274.2h.01M156.75 277.6h.01M157 277.6h.01M157 280.9h.01M157 284.2h.01M157 287.5h.01M157 290.8h.01M157 294.1h.01M157 297.4h.01M157 300.7h.01M157 304h.01M157 307.3h.01M157 310.7h.01M157 314h.01M157.25 314h.01M157 317.3h.01M157.25 317.3h.01M157.25 320.6h.01M157.25 323.9h.01M157.25 327.2h.01M157.25 330.5h.01M157.25 333.8h.01M157.25 337.1h.01M157.5 337.1h.01M157.5 340.4h.01M157.5 340.5h.01M157.5 343.8h.01M157.5 347.1h.01M157.75 347.1h.01M157.75 350.4h.01M157.75 353.7h.01M158 353.7h.01M157.75 357h.01M158 357h.01M157.75 360.3h.01M158 360.3h.01M158 363.6h.01M158 366.9h.01M158.25 366.9h.01M158.25 370.2h.01M158.25 373.6h.01M158.25 376.9h.01M158.5 376.9h.01M158.25 380.2h.01M158.5 380.2h.01M158.5 383.5h.01M158.75 383.5h.01M158.75 386.8h.01M158.75 390.1h.01M159 390.1h.01M159 393.4h.01M159 396.7h.01M159.25 393.4h.01M159.25 396.7h.01M159.25 400h.01M159.5 396.7h.01M159.5 400h.01M159.75 396.7h.01M159.75 400h.01M160 396.7h.01M160 400h.01M160.25 396.7h.01M160.5 396.7h.01M160.5 400h.01M160.75 396.7h.01M161 396.7h.01M161 393.4h.01M161.25 393.4h.01M161.5 393.4h.01M161.5 390.1h.01M161.75 390.1h.01M161.75 386.8h.01M162 386.8h.01M162 383.5h.01M162.25 383.5h.01M162.25 380.2h.01M162.5 380.2h.01M162.5 376.9h.01M162.75 376.9h.01M162.75 373.6h.01M163 373.6h.01M163.25 370.3h.01M163.5 367h.01M163.5 370.3h.01M163.75 363.6h.01M164 363.6h.01M164 360.3h.01M164.25 360.3h.01M164.25 357h.01M164.5 357h.01M164.5 353.7h.01M164.75 350.4h.01M165 350.4h.01M165 347.1h.01M165.25 347.1h.01M165.25 343.8h.01M165.5 343.8h.01M165.5 340.5h.01M165.75 340.5h.01M166 337.2h.01M166.25 333.9h.01M166.5 333.9h.01M166.5 330.6h.01M166.75 330.6h.01M167 327.2h.01M167.25 323.9h.01M167.25 327.2h.01M167.5 323.9h.01M167.5 320.6h.01M167.75 320.6h.01M168 320.6h.01M168 317.3h.01M168.25 317.3h.01M168.25 314h.01M168.5 314h.01M168.5 310.7h.01M168.75 310.7h.01M169 310.7h.01M169 307.4h.01M169.25 307.4h.01M169.25 304.1h.01M169.5 304.1h.01M169.5 300.8h.01M169.75 300.8h.01M169.75 304.1h.01M170 300.8h.01M170 297.5h.01M170.25 297.5h.01M170.5 297.5h.01M170.5 294.2h.01M170.75 294.2h.01M171 294.2h.01M171 290.9h.01M171.25 290.9h.01M171.5 287.5h.01M171.5 290.9h.01M171.75 287.5h.01M171.75 290.9h.01M172 287.5h.01M172 284.2h.01M172.25 284.2h.01M172.25 287.5h.01M172.5 284.2h.01M172.75 284.2h.01M172.75 287.5h.01M173 284.2h.01M173.25 284.2h.01M173.25 287.5h.01M173.25 287.6h.01M173.5 287.6h.01M173.5 290.9h.01M173.75 290.9h.01M173.75 294.2h.01M174 294.2h.01M174 297.5h.01M174 300.8h.01M174.25 300.8h.01M174.25 304.1h.01M174.5 304.1h.01M174.25 307.4h.01M174.5 307.4h.01M174.5 310.7h.01M174.75 310.7h.01M174.5 314h.01M174.75 314h.01M174.75 317.3h.01M175 317.3h.01M174.75 320.7h.01M175 320.7h.01M175 324h.01M175.25 324h.01M175.25 327.3h.01M175.5 327.3h.01M175.5 330.6h.01M175.5 333.9h.01M175.75 333.9h.01M175.75 337.2h.01M176 337.2h.01M176 340.5h.01M176.25 340.5h.01M176.5 340.5h.01M176.25 343.8h.01M176.5 343.8h.01M176.75 343.8h.01M176.75 347.1h.01M176.75 350.5h.01M177 347.1h.01M177 350.5h.01M177.25 350.5h.01M177.25 353.8h.01M177.25 357.1h.01M177.5 353.8h.01M177.5 357.1h.01M177.5 360.4h.01M177.75 360.4h.01M177.75 363.7h.01M178 363.7h.01M178 360.4h.01M178 367h.01M178.25 363.7h.01M178.25 367h.01M178.5 367h.01M178.25 370.3h.01M178.5 370.3h.01M178.5 373.6h.01M178.75 373.6h.01M178.75 376.9h.01M179 373.6h.01M179 376.9h.01M179.25 376.9h.01M179.25 380.3h.01M179.5 380.3h.01M179.75 380.3h.01M179.75 383.6h.01M180 383.6h.01M180 386.9h.01M180.25 383.6h.01M180.25 386.9h.01M180.5 386.9h.01M180.25 390.2h.01M180.5 390.2h.01M180.75 390.2h.01M181 390.2h.01M181.25 390.2h.01M181.25 393.5h.01M181.5 393.5h.01M181.75 393.5h.01M181.75 396.8h.01M182 396.8h.01M182 393.5h.01M182.25 393.5h.01M182.25 396.8h.01M182.5 396.8h.01M182.75 396.8h.01M183 396.8h.01M183 393.5h.01M183.25 393.5h.01M183.25 396.8h.01M183.5 393.5h.01M183.5 396.8h.01M183.75 396.8h.01M183.75 393.5h.01M184 393.5h.01M184 390.2h.01M184.25 393.5h.01M184.5 393.5h.01M184.75 390.2h.01M184.75 393.5h.01M185 390.2h.01M185 393.5h.01M185.25 390.2h.01M185.5 390.2h.01M185.75 390.2h.01M185.75 386.9h.01M186 386.9h.01M186 390.2h.01M186.25 386.9h.01M186.5 386.9h.01M186.5 383.6h.01M186.75 386.9h.01M186.75 383.6h.01M187 383.6h.01M187 386.9h.01M187.25 386.9h.01M187.25 383.6h.01M187.5 383.6h.01M187.5 380.3h.01M187.75 380.3h.01M187.75 383.6h.01M188 380.3h.01M188 383.6h.01M188.25 380.3h.01M188.5 380.3h.01M188.75 380.3h.01M188.75 377h.01M189 377h.01M189 380.3h.01M189.25 380.3h.01M189.5 377h.01M189.75 377h.01M189.75 380.3h.01M190 377h.01M190 380.3h.01M190.25 377h.01M190.25 380.3h.01M190.5 380.3h.01M190.5 377h.01M190.75 377h.01M190.75 380.3h.01M191 377h.01M191 380.3h.01M191.25 380.3h.01M191.25 377h.01M191.5 380.3h.01M191.75 380.3h.01M191.75 383.6h.01M192 380.3h.01M192 383.6h.01M192.25 383.6h.01M192.25 386.9h.01M192.5 383.6h.01M192.5 386.9h.01M192.75 383.6h.01M192.75 386.9h.01M193 386.9h.01M193.25 386.9h.01M193 390.2h.01M193.25 390.2h.01M193.5 390.2h.01M193.5 386.9h.01M193.75 390.2h.01M193.5 393.6h.01M193.75 393.6h.01M194 393.6h.01M194.25 390.2h.01M194.25 393.6h.01M194.25 396.9h.01M194.5 393.6h.01M194.5 396.9h.01M194.75 393.6h.01M195 393.6h.01M195 396.9h.01M195.25 393.6h.01M195.25 396.9h.01M195.5 396.9h.01M195.5 393.6h.01M195.75 393.6h.01M195.75 396.9h.01M196 393.6h.01M196.25 393.6h.01M196.5 390.3h.01M196.5 393.6h.01M196.75 390.3h.01M196.75 386.9h.01M197 386.9h.01M197.25 383.6h.01M197.5 380.3h.01M197.75 377h.01M198 377h.01M198 373.7h.01M198.25 370.4h.01M198.5 367.1h.01M198.75 363.8h.01M198.75 360.5h.01M199 360.5h.01M199 357.2h.01M199.25 357.2h.01M199.5 353.9h.01M199.5 350.5h.01M199.75 350.5h.01M199.75 347.2h.01M200 347.2h.01M200 343.9h.01M200.25 343.9h.01M200.25 340.6h.01M200.5 340.6h.01M200.5 337.3h.01M200.75 337.3h.01M200.75 334h.01M201 334h.01M201 330.7h.01M201.25 330.7h.01M201.25 327.4h.01M201.5 324.1h.01M201.5 320.8h.01M201.75 320.8h.01M201.75 317.5h.01M202 317.5h.01M202 314.1h.01M202.25 314.1h.01M202.25 310.8h.01M202.5 307.5h.01M202.75 304.2h.01M203 300.9h.01M203.25 297.6h.01M203.25 294.3h.01M203.5 294.3h.01M203.5 291h.01M203.75 291h.01M203.75 287.7h.01M204 287.7h.01M204 284.4h.01M204.25 284.4h.01M204.5 284.4h.01M204.5 281.1h.01M204.75 281.1h.01M205 281.1h.01M205 277.7h.01M205.25 277.7h.01M205.25 281.1h.01M205.5 277.7h.01M205.75 274.4h.01M205.75 277.7h.01M206 277.7h.01M206 274.4h.01M206.25 271.1h.01M206.25 274.4h.01M206.5 274.4h.01M206.5 271.1h.01M206.75 271.1h.01M206.75 267.8h.01M207 267.8h.01M207.25 267.8h.01M207.5 267.8h.01M207.75 264.5h.01M208 264.5h.01M208.25 264.5h.01M208.25 261.2h.01M208.5 261.2h.01M208.5 257.9h.01M208.75 257.9h.01M209 257.9h.01M208.75 261.2h.01M209 261.2h.01M209.25 257.9h.01M209.5 257.9h.01M209.5 254.6h.01M209.75 257.9h.01M209.75 254.6h.01M210 254.6h.01M210 257.9h.01M210.25 257.9h.01M210.5 257.9h.01M210.5 261.2h.01M210.75 261.2h.01M210.75 264.5h.01M211 261.2h.01M211 264.5h.01M211.25 264.5h.01M211.25 267.8h.01M211.5 264.5h.01M211.5 267.8h.01M211.5 271.2h.01M211.75 271.2h.01M211.5 274.5h.01M211.75 274.5h.01M211.75 277.8h.01M211.75 281.1h.01M211.75 284.4h.01M212 284.4h.01M211.75 287.7h.01M212 287.7h.01M212 291h.01M212 294.3h.01M212 297.6h.01M212 300.9h.01M212 304.3h.01M212 307.6h.01M212.25 307.6h.01M212 310.9h.01M212.25 310.9h.01M212 314.2h.01M212.25 314.2h.01M212.25 317.5h.01M212.25 320.8h.01M212.25 324.1h.01M212.25 327.4h.01M212.5 327.4h.01M212.5 330.7h.01M212.5 334h.01M212.5 337.4h.01M212.5 340.7h.01M212.75 340.7h.01M212.75 344h.01M212.75 347.3h.01M212.75 350.6h.01M213 350.6h.01M213 353.9h.01M213 357.2h.01M213 360.5h.01M213.25 360.5h.01M213 363.8h.01M213.25 363.8h.01M213.25 367.2h.01M213.25 370.5h.01M213.5 370.5h.01M213.5 373.8h.01M213.5 377.1h.01M213.5 380.4h.01M213.75 377.1h.01M213.75 380.4h.01M213.75 383.7h.01M213.75 387h.01M214 387h.01M214 390.3h.01M214.25 390.3h.01M214.25 393.6h.01M214.25 396.9h.01M214.5 393.6h.01M214.5 396.9h.01M214.75 396.9h.01M214.5 400.3h.01M214.75 400.3h.01M214.75 397h.01M215 397h.01M215.25 397h.01M215 400.3h.01M215.25 400.3h.01M215.5 397h.01M215.5 400.3h.01M215.75 397h.01M216 393.6h.01M216 397h.01M216.25 393.6h.01M216.5 390.3h.01M216.75 390.3h.01M216.75 387h.01M217 387h.01M217.25 383.7h.01M217.5 383.7h.01M217.5 380.4h.01M217.75 377.1h.01M217.75 373.8h.01M218 373.8h.01M218 377.1h.01M218.25 370.5h.01M218.5 367.2h.01M218.5 363.9h.01M218.75 363.9h.01M219 363.9h.01M219 360.6h.01M219.25 357.2h.01M219.5 353.9h.01M219.5 357.2h.01M219.75 350.6h.01M220 347.3h.01M220.25 344h.01M220.5 344h.01M220.5 340.7h.01M220.75 340.7h.01M220.75 337.4h.01M221 337.4h.01M221 334.1h.01M221.25 334.1h.01M221.25 330.8h.01M221.5 330.8h.01M221.5 334.1h.01M221.5 327.5h.01M221.75 327.5h.01M221.75 330.8h.01M222 324.2h.01M222.25 324.2h.01M222.5 320.8h.01M222.75 320.8h.01M222.75 317.5h.01M222.75 314.2h.01M223 314.2h.01M223.25 310.9h.01M223.25 314.2h.01M223.5 310.9h.01M223.5 307.6h.01M223.75 307.6h.01M223.75 304.3h.01M224 304.3h.01M224.25 304.3h.01M224.25 301h.01M224.5 297.7h.01M224.75 297.7h.01M224.75 294.4h.01M225 294.4h.01M225 291.1h.01M225.25 291.1h.01M225.25 287.8h.01M225.5 287.8h.01M225.5 291.1h.01M225.75 287.8h.01M225.75 284.4h.01M226 284.4h.01M226.25 281.1h.01M226.5 281.1h.01M226.75 281.1h.01M227 277.8h.01M227 274.5h.01M227.25 274.5h.01M227.25 277.8h.01M227.5 274.5h.01M227.5 277.8h.01M227.75 274.5h.01M228 274.5h.01M228 277.8h.01M228.25 277.8h.01M228.5 277.8h.01M228.25 281.1h.01M228.5 281.1h.01M228.5 284.5h.01M228.75 284.5h.01M228.75 287.8h.01M229 287.8h.01M229 291.1h.01M229 294.4h.01M229.25 291.1h.01M229.25 294.4h.01M229.25 297.7h.01M229.25 301h.01M229.25 304.3h.01M229.5 304.3h.01M229.5 307.6h.01M229.5 310.9h.01M229.75 310.9h.01M229.75 314.3h.01M229.75 317.6h.01M229.75 320.9h.01M230 320.9h.01M230 324.2h.01M230 327.5h.01M230.25 327.5h.01M230.25 330.8h.01M230.5 330.8h.01M230.5 334.1h.01M230.5 337.4h.01M230.75 334.1h.01M230.75 337.4h.01M230.75 340.7h.01M231 337.4h.01M231 340.7h.01M231.25 340.7h.01M231 344.1h.01M231.25 344.1h.01M231.25 347.4h.01M231.5 347.4h.01M231.5 350.7h.01M231.75 347.4h.01M231.75 350.7h.01M231.75 354h.01M232 354h.01M232 357.3h.01M232.25 357.3h.01M232.25 360.6h.01M232.5 360.6h.01M232.5 363.9h.01M232.75 363.9h.01M232.5 367.2h.01M232.75 367.2h.01M233 367.2h.01M233 370.5h.01M233.25 370.5h.01M233 373.9h.01M233.25 373.9h.01M233.5 373.9h.01M233.75 373.9h.01M233.5 377.2h.01M233.75 377.2h.01M234 377.2h.01M234 380.5h.01M234 383.8h.01M234.25 380.5h.01M234.25 383.8h.01M234.5 383.8h.01M234.5 387.1h.01M234.75 387.1h.01M234.75 390.4h.01M235 390.4h.01M235.25 390.4h.01M235 393.7h.01M235.25 393.7h.01M235.5 390.4h.01M235.5 393.7h.01M235.75 393.7h.01M236 393.7h.01M235.75 397h.01M236 397h.01M236.25 393.7h.01M236.25 400.3h.01M236.25 397h.01M236.5 397h.01M236.5 400.3h.01M236.75 397h.01M236.75 400.3h.01M237 397h.01M237 400.3h.01M237.25 400.3h.01M237.5 400.3h.01M237.5 397h.01M237.5 400.4h.01M237.75 397h.01M237.75 400.4h.01M238 397h.01M238 400.4h.01M238.25 400.4h.01M238.25 397h.01M238.5 400.4h.01M238.5 397h.01M238.75 400.4h.01M238.75 397h.01M239 393.7h.01M239 397h.01M239.25 393.7h.01M239.25 397h.01M239.5 397h.01M239.5 393.7h.01M239.75 393.7h.01M240 393.7h.01M240.25 390.4h.01M240.25 393.7h.01M240.5 393.7h.01M240.5 390.4h.01M240.75 390.4h.01M241 390.4h.01M241.25 390.4h.01M241.5 387.1h.01M241.75 387.1h.01M241.75 383.8h.01M242 383.8h.01M242 387.1h.01M242.25 383.8h.01M242.5 383.8h.01M242.75 383.8h.01M243 383.8h.01M243.25 380.5h.01M243.5 380.5h.01M243.25 383.8h.01M243.5 383.8h.01M243.75 380.5h.01M244 380.5h.01M244 377.2h.01M244.25 380.5h.01M244.25 377.2h.01M244.5 377.2h.01M244.5 380.5h.01M244.75 377.2h.01M245 377.2h.01M245.25 377.2h.01M245 380.5h.01M245.25 380.5h.01M245.5 380.5h.01M245.75 380.5h.01M245.75 377.2h.01M246 380.5h.01M246 377.2h.01M246.25 377.2h.01M246.25 380.5h.01M246.5 377.2h.01M246.5 380.5h.01M246.75 380.5h.01M246.75 383.8h.01M247 380.5h.01M247 383.8h.01M247.25 383.8h.01M247.25 380.5h.01M247.5 383.8h.01M247.5 387.1h.01M247.75 387.1h.01M247.75 387.2h.01M247.75 383.8h.01M248 383.8h.01M248 387.2h.01M248.25 387.2h.01M248.5 387.2h.01M248.75 387.2h.01M249 387.2h.01M249 390.5h.01M249.25 390.5h.01M249.5 390.5h.01M249.5 387.2h.01M249.75 387.2h.01M249.75 390.5h.01M250 387.2h.01M250.25 387.2h.01M250.5 383.9h.01M250.75 383.9h.01M250.75 380.5h.01M251 380.5h.01M251 377.2h.01M251.25 377.2h.01M251.25 373.9h.01M251.5 377.2h.01M251.5 373.9h.01M251.75 370.6h.01M252 367.3h.01M252 370.6h.01M252.25 367.3h.01M252.25 364h.01M252.5 364h.01M252.5 360.7h.01M252.75 360.7h.01M252.75 357.4h.01M253 357.4h.01M253 354.1h.01M253.25 354.1h.01M253.25 350.8h.01M253.5 350.8h.01M253.5 347.5h.01M253.75 347.5h.01M253.75 344.1h.01M254 344.1h.01M254 340.8h.01M254.25 340.8h.01M254.25 337.5h.01M254.5 337.5h.01M254.5 334.2h.01M254.75 334.2h.01M255 330.9h.01M255.25 327.6h.01M255.25 324.3h.01M255.5 324.3h.01M255.5 321h.01M255.75 321h.01M255.75 317.7h.01M256 317.7h.01M256 314.4h.01M256.25 311.1h.01M256.25 314.4h.01M256.5 307.7h.01M256.5 304.4h.01M256.75 304.4h.01M256.75 301.1h.01M257 301.1h.01M257 297.8h.01M257.25 297.8h.01M257.25 294.5h.01M257.5 294.5h.01M257.5 291.2h.01M257.75 291.2h.01M257.75 287.9h.01M258 287.9h.01M258.25 287.9h.01M258.25 284.6h.01M258.5 284.6h.01M258.5 281.3h.01M258.75 281.3h.01M258.75 284.6h.01M259 281.3h.01M259 278h.01M259.25 278h.01M259.25 281.3h.01M259.5 278h.01M259.5 274.7h.01M259.75 274.7h.01M259.75 278h.01M260 271.3h.01M260 274.7h.01M260.25 274.7h.01M260.25 271.3h.01M260.5 274.7h.01M260.5 271.3h.01M260.75 268h.01M260.75 271.3h.01M261 268h.01M261.25 268h.01M261.25 264.7h.01M261.5 264.7h.01M261.5 268h.01M261.75 268h.01M261.75 264.7h.01M262 261.4h.01M262 264.7h.01M262.25 261.4h.01M262.5 261.4h.01M262.5 258.1h.01M262.75 258.1h.01M263 258.1h.01M263 254.8h.01M263.25 254.8h.01M263.5 254.8h.01M263.5 251.5h.01M263.75 254.8h.01M264 254.8h.01M264 251.5h.01M264.25 251.5h.01M264.25 254.8h.01M264.5 254.8h.01M264.5 251.5h.01M264.75 251.5h.01M264.75 254.8h.01M265 254.8h.01M265 258.1h.01M265.25 254.8h.01M265.25 258.1h.01M265.5 258.1h.01M265.5 261.4h.01M265.75 261.4h.01M265.75 264.7h.01M266 264.7h.01M266 268.1h.01M266.25 264.7h.01M266.25 268.1h.01M266.25 271.4h.01M266.5 271.4h.01M266.25 274.7h.01M266.5 274.7h.01M266.5 278h.01M266.5 281.3h.01M266.75 281.3h.01M266.75 284.6h.01M266.75 287.9h.01M266.75 291.2h.01M266.75 294.5h.01M267 294.5h.01M267 297.9h.01M267 301.2h.01M267 304.5h.01M267 307.8h.01M267.25 307.8h.01M267.25 311.1h.01M267.25 314.4h.01M267.25 317.7h.01M267.25 321h.01M267.5 321h.01M267.5 324.3h.01M267.5 327.6h.01M267.75 327.6h.01M267.75 331h.01M267.75 334.3h.01M268 334.3h.01M268 337.6h.01M268 340.9h.01M268.25 337.6h.01M268.25 340.9h.01M268.25 344.2h.01M268.5 344.2h.01M268.5 347.5h.01M268.75 347.5h.01M268.5 350.8h.01M268.75 350.8h.01M269 350.8h.01M268.75 354.1h.01M269 354.1h.01M269 357.4h.01M269.25 354.1h.01M269.25 357.4h.01M269.5 357.4h.01M269.25 360.8h.01M269.5 360.8h.01M269.5 364.1h.01M269.75 364.1h.01M269.75 367.4h.01M270 367.4h.01M270 370.7h.01M270.25 370.7h.01M270.25 374h.01M270.5 374h.01M270.5 377.3h.01M270.75 377.3h.01M270.75 380.6h.01M271 377.3h.01M271 380.6h.01M271.25 380.6h.01M271 383.9h.01M271.25 383.9h.01M271.5 380.6h.01M271.5 383.9h.01M271.5 387.2h.01M271.75 387.2h.01M271.75 383.9h.01M272 387.2h.01M272 390.6h.01M272.25 390.6h.01M272.5 387.2h.01M272.5 390.6h.01M272.5 393.9h.01M272.75 390.6h.01M272.75 393.9h.01M273 393.9h.01M273.25 390.6h.01M273.25 393.9h.01M273.5 393.9h.01M273.5 390.6h.01M273.75 390.6h.01M273.75 393.9h.01M274 390.6h.01M274 393.9h.01M274.25 390.6h.01M274.25 393.9h.01M274.5 393.9h.01M274.5 390.6h.01M274.75 390.6h.01M275 390.6h.01M275.25 390.6h.01M275.5 390.6h.01M275.75 390.6h.01M275.75 387.3h.01M276 387.3h.01M276.25 387.3h.01M276.25 384h.01M276.5 384h.01M276.5 387.3h.01M276.75 384h.01M277 384h.01M277 380.6h.01M277.25 380.6h.01M277.25 384h.01M277.5 380.6h.01M277.5 384h.01M277.75 380.6h.01M278 380.6h.01M278 377.3h.01M278 380.7h.01M278.25 380.7h.01M278.5 377.3h.01M278.75 377.3h.01M279 377.3h.01M279 374h.01M279.25 374h.01M279.25 377.3h.01M279.5 374h.01M279.75 374h.01M280 374h.01M280 370.7h.01M280.25 370.7h.01M280.5 370.7h.01M280.5 374h.01M280.75 370.7h.01M281 370.7h.01M281 367.4h.01M281.25 367.4h.01M281.25 370.7h.01M281.5 367.4h.01M281.5 364.1h.01M281.75 364.1h.01M281.75 367.4h.01M282 367.4h.01M282.25 367.4h.01M282.25 364.1h.01M282.5 364.1h.01M282.5 367.4h.01M282.75 364.1h.01M282.75 360.8h.01M283 364.1h.01M283 360.8h.01M283.25 360.8h.01M283.25 364.1h.01M283.5 360.8h.01M283.5 364.1h.01M283.5 357.5h.01M283.75 357.5h.01M283.75 360.8h.01M284 360.8h.01M284 357.5h.01M284.25 357.5h.01M284.5 357.5h.01M284.5 360.8h.01M284.75 357.5h.01M284.75 360.8h.01M285 357.5h.01M285 354.2h.01M285.25 357.5h.01M285 360.8h.01M285.25 360.8h.01M285.5 357.5h.01M285.75 357.5h.01M285.75 354.2h.01M286 354.2h.01M286 357.5h.01M286.25 354.2h.01M286.5 354.2h.01M286.5 357.5h.01M286.75 354.2h.01M286.75 357.5h.01M287 357.5h.01M287 350.9h.01M287.25 350.9h.01M287 354.2h.01M287.25 354.2h.01M287.5 350.9h.01M287.5 354.2h.01M287.75 350.9h.01M287.75 354.2h.01M288 350.9h.01M288 357.5h.01M288.25 357.5h.01M288.25 354.2h.01M288.5 357.5h.01M288.75 350.9h.01M288.75 357.5h.01M289 350.9h.01M289 357.5h.01M289.25 357.5h.01M289.25 350.9h.01M289.5 350.9h.01M289.5 354.2h.01M289.5 357.5h.01M289.75 357.5h.01M289.75 350.9h.01M290 350.9h.01M290 357.5h.01M290.25 350.9h.01M290.25 354.2h.01M290.5 350.9h.01M290.25 357.5h.01M290.5 357.5h.01M290.75 357.5h.01M290.75 350.9h.01M291 350.9h.01M291 354.2h.01M291.25 350.9h.01M291.25 357.5h.01M291.25 354.2h.01M291.5 354.2h.01M291.5 350.9h.01M291.75 350.9h.01M291.75 354.2h.01M292 350.9h.01M292 357.5h.01M292.25 354.2h.01M292.5 354.2h.01M292.5 357.5h.01M292.75 357.5h.01M292.75 350.9h.01M293 350.9h.01M292.75 354.2h.01M293 354.2h.01M293 357.5h.01M293.25 357.5h.01M293.25 354.2h.01M293.5 350.9h.01M293.5 354.2h.01M293.5 357.5h.01M293.75 357.5h.01M293.75 354.2h.01M293.75 350.9h.01M294 350.9h.01M294.25 350.9h.01M294.25 354.2h.01M294.25 357.5h.01M294.5 350.9h.01M294.75 350.9h.01M294.75 354.2h.01M294.75 357.5h.01M295 357.5h.01M295 350.9h.01M295.25 350.9h.01M295.25 354.2h.01M295.5 350.9h.01M295.5 354.2h.01M295.75 354.2h.01M295.75 357.5h.01M296 357.6h.01M296 354.2h.01M296.25 354.2h.01M296.25 357.6h.01M296.5 350.9h.01M296.5 357.6h.01M296.5 354.2h.01M296.75 354.2h.01M296.75 357.6h.01M297 354.2h.01M297.25 354.2h.01M297.25 350.9h.01M297.5 350.9h.01M297.25 357.6h.01M297.5 357.6h.01M297.5 354.2h.01M297.75 354.2h.01M297.75 357.6h.01M298 354.2h.01M298.25 350.9h.01M298.25 357.6h.01"/>
<path fill="#f00" d="M156.5 348.9L159.3 353.9L153.7 353.9ZM159.6 379.8L162.4 384.8L156.8 384.8ZM164.2 252.8L167.1 257.8L161.4 257.8ZM168.5 397.6L171.3 402.6L165.7 402.6ZM177.0 253.5L179.8 258.5L174.2 258.5ZM179.5 394.0L182.3 399.0L176.7 399.0ZM183.2 285.9L186.1 290.9L180.4 290.9ZM187.2 394.4L190.1 399.4L184.4 399.4ZM195.2 252.0L198.1 257.0L192.4 257.0ZM197.8 396.7L200.6 401.7L195.0 401.7ZM201.0 273.5L203.8 278.5L198.2 278.5ZM205.0 400.1L207.8 405.1L202.2 405.1ZM213.0 252.8L215.8 257.8L210.2 257.8ZM216.6 396.5L219.4 401.5L213.8 401.5ZM220.8 353.9L223.6 358.9L218.0 358.9Z"/>
<path fill="#00f" d="M95.0 352.1L97.8 357.1L92.2 357.1ZM102.4 383.0L105.2 388.0L99.6 388.0ZM117.0 249.6L119.8 254.6L114.2 254.6ZM126.8 392.8L129.6 397.8L124.0 397.8ZM155.3 251.3L158.1 256.3L152.5 256.3ZM160.3 392.3L163.1 397.3L157.5 397.3ZM173.5 286.7L176.3 291.7L170.7 291.7ZM182.8 390.4L185.6 395.4L180.0 395.4ZM209.9 255.1L212.7 260.1L207.1 260.1ZM215.4 392.8L218.2 397.8L212.6 397.8ZM228.3 272.4L231.1 277.4L225.5 277.4ZM237.4 393.3L240.2 398.3L234.6 398.3ZM264.9 252.5L267.7 257.5L262.1 257.5ZM273.8 387.8L276.6 392.8L271.0 392.8ZM285.3 354.5L288.1 359.5L282.5 359.5Z"/>
<text class="t" x="50.9" y="260.5" style="font-size:17px;font-style:italic">D</text><text class="t" x="65.0" y="252.3" style="font-size:10.5px">2</text><text class="t" x="63.1" y="264.2" style="font-size:11.3px">OPA</text>
<path class="d" stroke="#000" stroke-width="2.85" d="M481.5 349.2h.01M482 349.2h.01M482 351.8h.01M482 346.6h.01M482.5 349.2h.01M482.5 351.8h.01M482.5 346.6h.01M483 349.2h.01M483 346.6h.01M483 351.8h.01M483.5 349.2h.01M483.5 351.8h.01M484 349.2h.01M484 346.6h.01M484.5 349.2h.01M484.5 351.8h.01M484.5 346.6h.01M485 349.2h.01M485 346.6h.01M485 351.8h.01M485.5 349.2h.01M485.5 346.6h.01M485.5 351.8h.01M486 349.2h.01M486 346.6h.01M486.5 346.6h.01M486.5 349.2h.01M487 346.6h.01M487 349.2h.01M487 351.8h.01M487.5 349.2h.01M487.5 351.8h.01M487.5 346.6h.01M488 349.2h.01M488 346.6h.01M488 351.8h.01M488.5 349.2h.01M488.5 351.8h.01M488.5 346.6h.01M489 349.2h.01M489 346.6h.01M489.5 346.6h.01M489.5 349.2h.01M490 349.2h.01M490 346.6h.01M490.5 346.6h.01M490.5 349.2h.01M490.5 351.8h.01M491 349.2h.01M491 351.8h.01M491 346.6h.01M491.5 346.6h.01M491.5 351.8h.01M491.5 349.2h.01M492 346.6h.01M492 349.2h.01M492 351.8h.01M492.5 349.2h.01M492.5 351.8h.01M493 351.8h.01M493 349.2h.01M493.5 351.8h.01M493.5 349.2h.01M494 349.2h.01M494 351.8h.01M494.5 351.8h.01M494.5 349.2h.01M495 349.2h.01M495 351.8h.01M495.5 349.2h.01M495.5 351.8h.01M496 349.2h.01M496 351.8h.01M496.5 349.2h.01M496.5 351.8h.01M497 351.8h.01M497 349.2h.01M497.5 349.2h.01M497.5 351.8h.01M498 351.8h.01M498 349.2h.01M498 346.6h.01M498.5 349.2h.01M498.5 354.5h.01M498.5 351.8h.01M499 349.2h.01M499 351.8h.01M499 354.5h.01M499.5 349.2h.01M499.5 351.8h.01M499.5 346.6h.01M500 351.8h.01M500 349.2h.01M500.5 349.2h.01M500.5 351.8h.01M501 349.2h.01M501 351.8h.01M501.5 349.2h.01M501.5 351.8h.01M501.5 354.5h.01M502 351.8h.01M502 349.2h.01M502 354.5h.01M502.5 354.5h.01M502.5 351.8h.01M502.5 349.2h.01M503 351.8h.01M503 354.5h.01M503 349.2h.01M503.5 351.8h.01M503.5 354.5h.01M504 354.5h.01M504 351.8h.01M504.5 351.8h.01M505 351.8h.01M505 349.2h.01M505 354.5h.01M505.5 351.8h.01M505.5 349.2h.01M505.5 354.5h.01M506 351.8h.01M506 354.5h.01M506 349.2h.01M506.5 349.2h.01M506.5 351.8h.01M506.5 354.5h.01M507 351.8h.01M507 354.5h.01M507.5 354.5h.01M507.5 351.8h.01M507.5 349.2h.01M508 349.2h.01M508 351.8h.01M508 354.5h.01M508.5 351.8h.01M508.5 354.5h.01M509 351.8h.01M509 354.5h.01M509.5 354.5h.01M509.5 351.8h.01M510 351.8h.01M510 354.5h.01M510.5 354.5h.01M510.5 357.1h.01M510.5 359.7h.01M511 359.7h.01M511 362.3h.01M511 364.9h.01M511 367.5h.01M511.5 367.5h.01M511.5 370.2h.01M511.5 372.8h.01M511.5 375.4h.01M512 372.8h.01M512 375.4h.01M512 378h.01M512 380.6h.01M512 383.3h.01M512.5 383.3h.01M512.5 385.9h.01M513 385.9h.01M513 388.5h.01M513.5 385.9h.01M513.5 383.3h.01M513.5 380.6h.01M513.5 378h.01M513.5 375.4h.01M514 375.4h.01M514 372.8h.01M514 370.2h.01M514 367.5h.01M514 364.9h.01M514 362.3h.01M514 359.7h.01M514.5 357.1h.01M514.5 354.5h.01M514.5 351.8h.01M514.5 349.2h.01M514.5 346.6h.01M514.5 344h.01M514.5 341.4h.01M514.5 338.8h.01M515 336.1h.01M515 333.5h.01M515 330.9h.01M515 328.3h.01M515 325.7h.01M515 323.1h.01M515 320.4h.01M515 317.8h.01M515 315.2h.01M515 312.6h.01M515 310h.01M515 307.4h.01M515 304.7h.01M515 302.1h.01M515 299.5h.01M515 296.9h.01M515.5 294.3h.01M515.5 291.7h.01M515.5 289h.01M515.5 286.4h.01M515.5 283.8h.01M515.5 281.2h.01M515.5 278.6h.01M515.5 276h.01M515.5 273.3h.01M516 273.3h.01M516 270.7h.01M516 268.1h.01M516.5 268.1h.01M516.5 265.5h.01M516.5 262.9h.01M517 262.9h.01M517 260.3h.01M517 257.6h.01M517 255h.01M517.5 255h.01M517.5 252.4h.01M517.5 249.8h.01M518 252.4h.01M518 255h.01M518 257.6h.01M518 260.3h.01M518.5 260.3h.01M518.5 262.9h.01M518.5 265.5h.01M518.5 268.1h.01M518.5 270.7h.01M518.5 273.3h.01M518.5 276h.01M518.5 278.6h.01M518.5 281.2h.01M518.5 283.8h.01M518.5 286.4h.01M519 286.4h.01M519 289h.01M519 291.7h.01M519 294.3h.01M519 296.9h.01M519 299.5h.01M519 302.1h.01M519 304.7h.01M519 307.4h.01M519 310h.01M519 312.6h.01M519 315.2h.01M519 317.8h.01M519 320.4h.01M519 323.1h.01M519 325.7h.01M519 328.3h.01M519 330.9h.01M519.5 330.9h.01M519.5 333.5h.01M519.5 336.1h.01M519.5 338.8h.01M519.5 341.4h.01M519.5 344h.01M519.5 346.6h.01M519.5 349.2h.01M519.5 351.8h.01M520 354.5h.01M520 351.8h.01M520 357.1h.01M520 359.7h.01M520 362.3h.01M520 364.9h.01M520 367.5h.01M520 370.2h.01M520.5 370.2h.01M520.5 372.8h.01M520.5 375.4h.01M520.5 378h.01M520.5 380.6h.01M520.5 383.3h.01M520.5 385.9h.01M521 385.9h.01M521 388.5h.01M521 391.1h.01M521 393.7h.01M521 396.3h.01M521.5 396.3h.01M521.5 399h.01M521.5 401.6h.01M521.5 404.2h.01M522 404.2h.01M522.5 404.2h.01M522.5 401.6h.01M522.5 399h.01M523 401.6h.01M523 399h.01M523 396.3h.01M523 393.7h.01M523.5 396.3h.01M523.5 393.7h.01M523.5 391.1h.01M523.5 388.5h.01M524 385.9h.01M524 383.3h.01M524 380.6h.01M524.5 380.6h.01M524.5 378h.01M525 378h.01M525 375.4h.01M525.5 380.6h.01M525.5 378h.01M525.5 383.3h.01M525.5 385.9h.01M525.5 388.5h.01M526 388.5h.01M526 391.1h.01M526 393.7h.01M526 396.3h.01M526.5 396.3h.01M526.5 399h.01M526.5 393.7h.01M526.5 391.1h.01M527 393.7h.01M527 391.1h.01M527 388.5h.01M527 385.9h.01M527 383.3h.01M527 380.6h.01M527 378h.01M527 375.4h.01M527 372.8h.01M527 370.2h.01M527 367.5h.01M527.5 367.5h.01M527.5 364.9h.01M527.5 362.3h.01M527.5 359.7h.01M527.5 357.1h.01M527.5 354.5h.01M527.5 351.8h.01M527.5 349.2h.01M527.5 346.6h.01M527.5 344h.01M527.5 341.4h.01M527.5 338.8h.01M527.5 336.1h.01M528 333.5h.01M528 330.9h.01M528 328.3h.01M528 325.7h.01M528 323.1h.01M528 320.4h.01M528 317.8h.01M528 315.2h.01M528 312.6h.01M528 310h.01M528 307.4h.01M528 304.7h.01M528 302.1h.01M528 299.5h.01M528 296.9h.01M528 294.3h.01M528.5 294.3h.01M528.5 291.7h.01M528.5 289h.01M528.5 286.4h.01M528.5 283.8h.01M528.5 281.2h.01M528.5 278.6h.01M528.5 276h.01M529 276h.01M529 273.3h.01M529 270.7h.01M529 268.1h.01M529.5 268.1h.01M529.5 265.5h.01M529.5 262.9h.01M529.5 260.3h.01M530 260.3h.01M530 257.6h.01M530 255h.01M530 252.4h.01M530.5 252.4h.01M530.5 249.8h.01M530.5 255h.01M531 255h.01M531 257.6h.01M531 260.3h.01M531 262.9h.01M531 265.5h.01M531 268.1h.01M531 270.7h.01M531 273.3h.01M531 276h.01M531 278.6h.01M531 283.8h.01M531 286.4h.01M531.5 286.4h.01M531.5 289h.01M531.5 291.7h.01M531.5 294.3h.01M531.5 296.9h.01M531.5 299.5h.01M531.5 302.1h.01M531.5 304.7h.01M531.5 307.4h.01M531.5 310h.01M531.5 312.6h.01M531.5 315.2h.01M531.5 317.8h.01M531.5 320.4h.01M531.5 323.1h.01M531.5 325.7h.01M531.5 328.3h.01M531.5 330.9h.01M531.5 333.5h.01M531.5 336.1h.01M531.5 338.8h.01M531.5 341.4h.01M532 344h.01M532 346.6h.01M532 349.2h.01M532 351.8h.01M532 354.5h.01M532 357.1h.01M532 359.7h.01M532 362.3h.01M532 364.9h.01M532 367.5h.01M532 370.2h.01M532 372.8h.01M532 375.4h.01M532 378h.01M532 380.6h.01M532.5 380.6h.01M532.5 383.3h.01M532.5 385.9h.01M532.5 388.5h.01M532.5 391.1h.01M532.5 393.7h.01M532.5 396.3h.01M532.5 399h.01M533 401.6h.01M533 399h.01M533 396.3h.01M533 393.7h.01M533 391.1h.01M533.5 391.1h.01M533.5 388.5h.01M533.5 385.9h.01M533.5 383.3h.01M533.5 380.6h.01M533.5 378h.01M533.5 375.4h.01M533.5 372.8h.01M534 372.8h.01M534 370.2h.01M534 367.5h.01M534 364.9h.01M534 362.3h.01M534 359.7h.01M534 357.1h.01M534 354.5h.01M534 351.8h.01M534 349.2h.01M534.5 349.2h.01M534.5 346.6h.01M534.5 344h.01M534.5 341.4h.01M534.5 338.8h.01M534.5 336.1h.01M534.5 333.5h.01M534.5 330.9h.01M535 330.9h.01M535 328.3h.01M535 325.7h.01M535 323.1h.01M535 320.4h.01M535 317.8h.01M535 315.2h.01M535.5 315.2h.01M535.5 312.6h.01M535.5 310h.01M535.5 307.4h.01M535.5 304.7h.01M535.5 302.1h.01M535.5 299.5h.01M536 299.5h.01M536 296.9h.01M536 294.3h.01M536 291.7h.01M536 289h.01M536.5 291.7h.01M536.5 289h.01M536.5 286.4h.01M536.5 283.8h.01M537 286.4h.01M537 289h.01M537 291.7h.01M537 294.3h.01M537 296.9h.01M537 299.5h.01M537 302.1h.01M537 304.7h.01M537.5 307.4h.01M537.5 310h.01M537.5 312.6h.01M537.5 315.2h.01M537.5 317.8h.01M537.5 320.4h.01M537.5 323.1h.01M537.5 325.7h.01M537.5 328.3h.01M537.5 330.9h.01M537.5 333.5h.01M538 333.5h.01M538 336.1h.01M538 338.8h.01M538 341.4h.01M538 344h.01M538 346.6h.01M538.5 346.6h.01M538.5 349.2h.01M538.5 351.8h.01M538.5 354.5h.01M538.5 357.1h.01M538.5 359.7h.01M538.5 362.3h.01M538.5 364.9h.01M539 362.3h.01M539 364.9h.01M539 367.5h.01M539 370.2h.01M539 372.8h.01M539 375.4h.01M539 378h.01M539.5 378h.01M539.5 380.6h.01M539.5 383.3h.01M539.5 385.9h.01M539.5 388.5h.01M539.5 391.1h.01M540 391.1h.01M540 393.7h.01M540 396.3h.01M540 399h.01M540 401.6h.01M540.5 401.6h.01M540.5 404.2h.01M541 401.6h.01M541 404.2h.01M541 399h.01M541.5 399h.01M541.5 396.3h.01M541.5 393.7h.01M541.5 391.1h.01M542 391.1h.01M542 388.5h.01M542 385.9h.01M542 383.3h.01M542.5 383.3h.01M542.5 380.6h.01M542.5 378h.01M542.5 375.4h.01M543 375.4h.01M543 372.8h.01M543.5 372.8h.01M543.5 375.4h.01M543.5 378h.01M544 380.6h.01M544 383.3h.01M544 385.9h.01M544 388.5h.01M544.5 388.5h.01M544.5 391.1h.01M544.5 393.7h.01M544.5 396.3h.01M545 393.7h.01M545 396.3h.01M545 391.1h.01M545.5 391.1h.01M545.5 388.5h.01M545.5 385.9h.01M545.5 383.3h.01M545.5 380.6h.01M545.5 378h.01M545.5 375.4h.01M545.5 372.8h.01M545.5 370.2h.01M545.5 367.5h.01M545.5 364.9h.01M546 364.9h.01M546 362.3h.01M546 359.7h.01M546 357.1h.01M546 354.5h.01M546 351.8h.01M546 349.2h.01M546 346.6h.01M546 344h.01M546 341.4h.01M546 338.8h.01M546 336.1h.01M546 333.5h.01M546.5 333.5h.01M546.5 330.9h.01M546.5 328.3h.01M546.5 325.7h.01M546.5 323.1h.01M546.5 320.4h.01M546.5 317.8h.01M546.5 315.2h.01M546.5 312.6h.01M546.5 310h.01M546.5 307.4h.01M546.5 304.7h.01M546.5 302.1h.01M546.5 299.5h.01M547 299.5h.01M547 296.9h.01M547 294.3h.01M547 291.7h.01M547 289h.01M547 286.4h.01M547 283.8h.01M547 281.2h.01M547 278.6h.01M547 276h.01M547.5 276h.01M547.5 273.3h.01M547.5 270.7h.01M547.5 268.1h.01M547.5 265.5h.01M548 265.5h.01M548 262.9h.01M548 260.3h.01M548 257.6h.01M548.5 257.6h.01M548.5 255h.01M548.5 252.4h.01M548.5 249.8h.01M549 249.8h.01M549 252.4h.01M549 255h.01M549 257.6h.01M549 260.3h.01M549.5 260.3h.01M549.5 262.9h.01M549.5 265.5h.01M549.5 268.1h.01M549.5 270.7h.01M549.5 273.3h.01M549.5 276h.01M549.5 278.6h.01M549.5 281.2h.01M549.5 283.8h.01M549.5 286.4h.01M549.5 289h.01M549.5 291.7h.01M549.5 294.3h.01M549.5 296.9h.01M549.5 299.5h.01M549.5 302.1h.01M549.5 304.7h.01M550 307.4h.01M550 310h.01M550 312.6h.01M550 315.2h.01M550 317.8h.01M550 320.4h.01M550 323.1h.01M550 325.7h.01M550 328.3h.01M550 330.9h.01M550 333.5h.01M550 336.1h.01M550 338.8h.01M550 341.4h.01M550 344h.01M550 346.6h.01M550 349.2h.01M550 351.8h.01M550.5 351.8h.01M550.5 354.5h.01M550.5 357.1h.01M550.5 359.7h.01M550.5 362.3h.01M550.5 364.9h.01M550.5 367.5h.01M550.5 370.2h.01M550.5 372.8h.01M550.5 375.4h.01M550.5 378h.01M550.5 380.6h.01M550.5 383.3h.01M550.5 385.9h.01M550.5 388.5h.01M551 388.5h.01M551 391.1h.01M551 393.7h.01M551 396.3h.01M551 399h.01M551 401.6h.01M551 404.2h.01M551.5 401.6h.01M551.5 404.2h.01M551.5 399h.01M551.5 396.3h.01M551.5 393.7h.01M551.5 391.1h.01M551.5 388.5h.01M552 388.5h.01M552 385.9h.01M552 383.3h.01M552 380.6h.01M552 378h.01M552 375.4h.01M552 372.8h.01M552 370.2h.01M552 367.5h.01M552 364.9h.01M552 362.3h.01M552 359.7h.01M552 357.1h.01M552.5 357.1h.01M552.5 354.5h.01M552.5 351.8h.01M552.5 349.2h.01M552.5 346.6h.01M552.5 344h.01M552.5 341.4h.01M552.5 338.8h.01M552.5 336.1h.01M552.5 333.5h.01M552.5 330.9h.01M553 330.9h.01M553 328.3h.01M553 325.7h.01M553 323.1h.01M553 320.4h.01M553 317.8h.01M553 315.2h.01M553 312.6h.01M553 310h.01M553 307.4h.01M553.5 304.7h.01M553.5 302.1h.01M553.5 299.5h.01M553.5 296.9h.01M553.5 294.3h.01M553.5 291.7h.01M553.5 289h.01M553.5 286.4h.01M553.5 283.8h.01M554 283.8h.01M554 281.2h.01M554 278.6h.01M554 276h.01M554 273.3h.01M554 270.7h.01M554 268.1h.01M554.5 268.1h.01M554.5 270.7h.01M554.5 273.3h.01M554.5 276h.01M554.5 278.6h.01M555 278.6h.01M555 281.2h.01M555 283.8h.01M555 286.4h.01M555 289h.01M555 291.7h.01M555 294.3h.01M555 296.9h.01M555 299.5h.01M555 302.1h.01M555 304.7h.01M555 307.4h.01M555 310h.01M555 312.6h.01M555.5 312.6h.01M555.5 315.2h.01M555.5 317.8h.01M555.5 320.4h.01M555.5 323.1h.01M555.5 325.7h.01M555.5 328.3h.01M555.5 330.9h.01M555.5 333.5h.01M555.5 336.1h.01M555.5 338.8h.01M556 338.8h.01M556 341.4h.01M556 344h.01M556 346.6h.01M556 349.2h.01M556 351.8h.01M556 354.5h.01M556 357.1h.01M556.5 357.1h.01M556.5 359.7h.01M556.5 362.3h.01M556.5 364.9h.01M556.5 367.5h.01M556.5 370.2h.01M556.5 372.8h.01M557 375.4h.01M557 372.8h.01M557 378h.01M557 380.6h.01M557 383.3h.01M557 385.9h.01M557 388.5h.01M557.5 391.1h.01M557.5 388.5h.01M557.5 393.7h.01M557.5 396.3h.01M557.5 399h.01M557.5 401.6h.01M558 401.6h.01M558 404.2h.01M558 406.8h.01M558.5 404.2h.01M558.5 406.8h.01M559 404.2h.01M559 401.6h.01M559 399h.01M559 396.3h.01M559.5 396.3h.01M559.5 393.7h.01M559.5 391.1h.01M559.5 388.5h.01M559.5 385.9h.01M560 385.9h.01M560 383.3h.01M560 380.6h.01M560 378h.01M560.5 378h.01M560.5 375.4h.01M561 378h.01M561 380.6h.01M561 383.3h.01M561.5 380.6h.01M561.5 383.3h.01M561.5 385.9h.01M561.5 388.5h.01M562 388.5h.01M562 391.1h.01M562 393.7h.01M562 396.3h.01M562.5 393.7h.01M562.5 396.3h.01M563 396.3h.01M563 393.7h.01M563 391.1h.01M563 388.5h.01M563 385.9h.01M563 383.3h.01M563 380.6h.01M563 378h.01M563 375.4h.01M563.5 375.4h.01M563.5 372.8h.01M563.5 370.2h.01M563.5 367.5h.01M563.5 364.9h.01M563.5 362.3h.01M563.5 359.7h.01M563.5 357.1h.01M563.5 354.5h.01M563.5 351.8h.01M563.5 349.2h.01M563.5 346.6h.01M564 346.6h.01M564 344h.01M564 341.4h.01M564 338.8h.01M564 336.1h.01M564 333.5h.01M564 330.9h.01M564 328.3h.01M564 325.7h.01M564 323.1h.01M564 320.4h.01M564 317.8h.01M564.5 315.2h.01M564.5 312.6h.01M564.5 310h.01M564.5 307.4h.01M564.5 304.7h.01M564.5 302.1h.01M564.5 299.5h.01M564.5 296.9h.01M564.5 294.3h.01M564.5 291.7h.01M564.5 289h.01M564.5 286.4h.01M564.5 283.8h.01M565 283.8h.01M565 281.2h.01M565 278.6h.01M565 276h.01M565 273.3h.01M565 270.7h.01M565.5 270.7h.01M565.5 268.1h.01M565.5 265.5h.01M565.5 262.9h.01M565.5 260.3h.01M566 260.3h.01M566 257.6h.01M566 255h.01M566 252.4h.01M566 249.8h.01M566.5 249.8h.01M566.5 247.2h.01M566.5 252.4h.01M567 252.4h.01M567 255h.01M567 257.6h.01M567 260.3h.01M567 262.9h.01M567 265.5h.01M567 268.1h.01M567 270.7h.01M567.5 273.3h.01M567.5 276h.01M567.5 278.6h.01M567.5 281.2h.01M567.5 283.8h.01M567.5 286.4h.01M567.5 289h.01M567.5 291.7h.01M567.5 294.3h.01M567.5 296.9h.01M567.5 299.5h.01M567.5 302.1h.01M567.5 304.7h.01M567.5 307.4h.01M567.5 310h.01M567.5 312.6h.01M567.5 315.2h.01M567.5 317.8h.01M567.5 320.4h.01M568 320.4h.01M568 323.1h.01M568 325.7h.01M568 328.3h.01M568 330.9h.01M568 333.5h.01M568 336.1h.01M568 338.8h.01M568 341.4h.01M568 344h.01M568 346.6h.01M568 349.2h.01M568.5 349.2h.01M568.5 351.8h.01M568.5 354.5h.01M568.5 357.1h.01M568.5 359.7h.01M568.5 362.3h.01M568.5 364.9h.01M568.5 367.5h.01M568.5 370.2h.01M568.5 372.8h.01M569 372.8h.01M569 375.4h.01M569 378h.01M569 380.6h.01M569 383.3h.01M569 385.9h.01M569 388.5h.01M569 391.1h.01M569.5 391.1h.01M569.5 393.7h.01M569.5 396.3h.01M569.5 399h.01M569.5 401.6h.01M569.5 404.2h.01M570 401.6h.01M570 404.2h.01M570.5 404.2h.01M570.5 401.6h.01M571 399h.01M571 396.3h.01M571 393.7h.01M571.5 393.7h.01M571.5 391.1h.01M571.5 388.5h.01M571.5 385.9h.01M572 385.9h.01M572 383.3h.01M572 380.6h.01M572 378h.01M572.5 378h.01M572.5 380.6h.01M572.5 375.4h.01M572.5 372.8h.01M573 375.4h.01M573 372.8h.01M573 370.2h.01M573 367.5h.01M573.5 367.5h.01M573.5 364.9h.01M573.5 362.3h.01M573.5 359.7h.01M574 362.3h.01M574 359.7h.01M574 357.1h.01M574 354.5h.01M574.5 357.1h.01M574.5 359.7h.01M574.5 354.5h.01M575 357.1h.01M575 359.7h.01M575 354.5h.01M575.5 354.5h.01M575.5 351.8h.01M575.5 357.1h.01M575.5 359.7h.01M576 357.1h.01M576 359.7h.01M576 351.8h.01M576 354.5h.01M576.5 354.5h.01M576.5 357.1h.01M576.5 359.7h.01M577 357.1h.01M577 354.5h.01M577 351.8h.01M577 359.7h.01M577.5 359.7h.01M577.5 357.1h.01M577.5 354.5h.01M578 357.1h.01M578 351.8h.01M578 354.5h.01M578 359.7h.01M578.5 359.7h.01M578.5 357.1h.01M578.5 354.5h.01M579 359.7h.01M579 357.1h.01M579 354.5h.01M579 351.8h.01M579.5 357.1h.01M579.5 351.8h.01M579.5 354.5h.01M579.5 362.3h.01M580 354.5h.01M580 351.8h.01M580 359.7h.01M580 357.1h.01M580.5 354.5h.01M580.5 357.1h.01M580.5 351.8h.01M580.5 359.7h.01M581 359.7h.01M581 354.5h.01M581 357.1h.01M581 351.8h.01M581.5 357.1h.01M581.5 354.5h.01M581.5 359.7h.01M582 354.5h.01M582 357.1h.01M582.5 354.5h.01M582.5 359.7h.01M582.5 357.1h.01M582.5 351.8h.01M583 354.5h.01M583 359.7h.01M583 357.1h.01M583.5 359.7h.01M583.5 357.1h.01M583.5 354.5h.01M584 354.5h.01M584 362.3h.01M584 357.1h.01M584 359.7h.01M584.5 357.1h.01M584.5 354.5h.01M584.5 351.8h.01M585 354.5h.01M585 357.1h.01M585 351.8h.01M585 359.7h.01M585.5 357.1h.01M585.5 354.5h.01M585.5 351.8h.01M586 354.5h.01M586 357.1h.01M586 351.8h.01M586.5 357.1h.01M586.5 354.5h.01M586.5 359.7h.01M587 354.5h.01M587 357.1h.01M587 359.7h.01M587.5 354.5h.01M587.5 359.7h.01M587.5 357.1h.01M588 354.5h.01M588 351.8h.01M588 359.7h.01M588 357.1h.01M588.5 357.1h.01M588.5 354.5h.01M588.5 359.7h.01M588.5 351.8h.01M589 357.1h.01M589 354.5h.01M589 351.8h.01M589.5 354.5h.01M589.5 359.7h.01M589.5 357.1h.01M590 354.5h.01M590 357.1h.01M590 351.8h.01M590 359.7h.01M590.5 357.1h.01M590.5 354.5h.01M590.5 351.8h.01M591 354.5h.01M591 357.1h.01M591 359.7h.01M591.5 359.7h.01M591.5 357.1h.01M591.5 354.5h.01M591.5 351.8h.01M592 357.1h.01M592 354.5h.01M592 351.8h.01M592.5 354.5h.01M592.5 357.1h.01M593 357.1h.01M593 354.5h.01M593 359.7h.01M593.5 357.1h.01M593.5 354.5h.01M593.5 359.7h.01M593.5 351.8h.01M594 354.5h.01M594 357.1h.01M594 351.8h.01M594 359.7h.01M594.5 357.1h.01M594.5 354.5h.01M595 354.5h.01M595 357.1h.01M595 359.7h.01M595.5 357.1h.01M595.5 359.7h.01M595.5 354.5h.01M595.5 351.8h.01M596 357.1h.01M596 351.8h.01M596 359.7h.01M596 354.5h.01M596.5 354.5h.01M596.5 351.8h.01M596.5 357.1h.01M596.5 359.7h.01M597 359.7h.01M597 354.5h.01M597 351.8h.01M597 357.1h.01M597.5 357.1h.01M597.5 354.5h.01M597.5 359.7h.01M598 359.7h.01M598 354.5h.01M598 357.1h.01M598.5 357.1h.01M598.5 354.5h.01M598.5 359.7h.01M598.5 351.8h.01M599 354.5h.01M599 357.1h.01M599.5 357.1h.01M599.5 354.5h.01M599.5 359.7h.01M600 354.5h.01M600 357.1h.01M600 351.8h.01M600.5 357.1h.01M600.5 354.5h.01"/>
<path class="d" stroke="#00cd00" stroke-width="2.2" d="M505.5 355h.01M505.75 355h.01M505.75 352.1h.01M505.75 351.5h.01M505.75 349.5h.01M506 354.1h.01M506 354.7h.01M506 348h.01M506 351.5h.01M506.25 350.5h.01M506.25 351.2h.01M506.25 351.1h.01M506.25 349.1h.01M506.25 351.5h.01M506.5 351.1h.01M506.5 351.5h.01M506.5 349.1h.01M506.75 351.5h.01M506.75 352.4h.01M506.75 355h.01M506.75 351.7h.01M507 352.3h.01M507 353.5h.01M507 355h.01M507 351.6h.01M507.25 355h.01M507.25 351.5h.01M507.25 352.2h.01M507.25 357.8h.01M507.5 355h.01M507.5 354.2h.01M507.75 356.5h.01M507.75 357.7h.01M507.75 351.7h.01M507.75 355h.01M508 355h.01M508 354.1h.01M508 358.3h.01M508.25 355h.01M508.25 357.8h.01M508.25 351.5h.01M508.25 352.5h.01M508.25 353.2h.01M508.5 351.9h.01M508.5 351.7h.01M508.5 355h.01M508.5 353.4h.01M508.5 353.8h.01M508.75 355h.01M508.75 348.8h.01M508.75 353.5h.01M508.75 353.7h.01M508.75 354.4h.01M509 351.5h.01M509 353.6h.01M509 355h.01M509.25 355h.01M509.25 351.5h.01M509.25 354.9h.01M509.5 355h.01M509.5 353h.01M509.5 351.5h.01M509.5 351.3h.01M509.5 351h.01M509.75 351.5h.01M509.75 350.5h.01M509.75 348.2h.01M509.75 354.6h.01M509.75 355h.01M510 353.2h.01M510 355h.01M510 353.1h.01M510 353.8h.01M510 352.3h.01M510.25 354.6h.01M510.25 355h.01M510.5 355h.01M510.5 358.1h.01M510.5 358.5h.01M510.75 358.5h.01M510.75 360.5h.01M510.75 362h.01M511 362h.01M511 365.6h.01M511.25 365.6h.01M511.25 367.5h.01M511.25 369.1h.01M511.25 372.2h.01M511.5 369.1h.01M511.5 369.5h.01M511.5 372.6h.01M511.75 372.6h.01M511.75 375.3h.01M511.75 376.1h.01M511.75 376.5h.01M511.75 378.8h.01M512 377.3h.01M512 379.6h.01M512 382.4h.01M512.25 383.1h.01M512.25 384.7h.01M512.5 384.7h.01M512.5 385.5h.01M512.5 386.7h.01M512.5 389.8h.01M512.75 386.7h.01M512.75 387.8h.01M512.75 388.6h.01M512.75 390.2h.01M513 390.2h.01M513 389.9h.01M513 387.2h.01M513.25 390.2h.01M513.25 388.8h.01M513.25 386.7h.01M513.5 383.9h.01M513.5 383.1h.01M513.5 383h.01M513.5 379.6h.01M513.5 379h.01M513.75 377h.01M513.75 378.4h.01M513.75 376.1h.01M513.75 374.1h.01M514 370.3h.01M514 369.1h.01M514 365.9h.01M514 365.6h.01M514 362h.01M514.25 361.6h.01M514.25 358.5h.01M514.25 357.2h.01M514.25 353.4h.01M514.25 351.5h.01M514.5 349.3h.01M514.5 348h.01M514.5 345.3h.01M514.5 344.5h.01M514.75 337.4h.01M514.75 337.1h.01M514.75 333.9h.01M514.75 333.1h.01M514.75 330.4h.01M514.75 329h.01M515 325.2h.01M515 321.4h.01M515 315.4h.01M515 310.3h.01M515 306.5h.01M515 302.7h.01M515.25 298.9h.01M515.25 291.6h.01M515.25 287.8h.01M515.25 284.7h.01M515.25 283.7h.01M515.25 279.9h.01M515.5 276.1h.01M515.5 274.1h.01M515.5 271.8h.01M515.5 270.6h.01M515.75 270.6h.01M515.75 267.1h.01M515.75 266.3h.01M516 264.6h.01M516 265.8h.01M516 263.6h.01M516 261.1h.01M516.25 260.1h.01M516.25 263.5h.01M516.5 260.1h.01M516.5 259.2h.01M516.5 257.7h.01M516.5 258.6h.01M516.5 256.5h.01M516.75 256.5h.01M516.75 254h.01M516.75 255.8h.01M516.75 252.9h.01M517 249.5h.01M517 250.2h.01M517 253h.01M517 251.8h.01M517.25 249.5h.01M517.25 247.1h.01M517.25 246h.01M517.5 246h.01M517.5 242.5h.01M517.5 243.5h.01M517.5 244.6h.01M517.75 244.1h.01M517.75 246h.01M517.75 243.2h.01M517.75 242.5h.01M518 246h.01M518 246.4h.01M518 249.5h.01M518.25 249.5h.01M518.25 252.6h.01M518.25 253h.01M518.5 255.3h.01M518.5 256.5h.01M518.5 260.1h.01M518.5 260.8h.01M518.5 265h.01M518.5 269.1h.01M518.75 273.3h.01M518.75 274.1h.01M518.75 278.2h.01M518.75 282.4h.01M518.75 288.4h.01M519 294.3h.01M519 295.2h.01M519 299.5h.01M519 305.8h.01M519 309.2h.01M519 315.2h.01M519.25 319.4h.01M519.25 320h.01M519.25 324.2h.01M519.25 326.9h.01M519.25 329.1h.01M519.25 330.4h.01M519.5 333.9h.01M519.5 334.6h.01M519.5 337.4h.01M519.75 340.8h.01M519.75 345h.01M519.75 348h.01M519.75 350.5h.01M519.75 348.3h.01M520 351.8h.01M520 355h.01M520 357.3h.01M520 358.5h.01M520 362h.01M520.25 362h.01M520.25 363.5h.01M520.25 365.6h.01M520.25 369.1h.01M520.25 369.7h.01M520.5 372.6h.01M520.5 376.1h.01M520.75 377.2h.01M520.75 379.6h.01M520.75 382.8h.01M520.75 383.1h.01M520.75 384.1h.01M521 386.7h.01M521 390.2h.01M521.25 392.3h.01M521.25 393.7h.01M521.25 390.8h.01M521.5 395.6h.01M521.5 397.2h.01M521.5 393.9h.01M521.75 397.2h.01M521.75 400.3h.01M521.75 400.7h.01M521.75 399.8h.01M521.75 398.8h.01M522 400.7h.01M522 400h.01M522 398.6h.01M522.25 399.9h.01M522.25 397.2h.01M522.25 400.1h.01M522.25 400.7h.01M522.25 399.3h.01M522.5 399.7h.01M522.5 397.2h.01M522.5 399.3h.01M522.5 397.6h.01M522.5 400.1h.01M522.75 395.5h.01M522.75 396.4h.01M522.75 397.2h.01M522.75 393.9h.01M523 393.7h.01M523 395.6h.01M523 394.3h.01M523 393.2h.01M523 390.2h.01M523.25 392.7h.01M523.25 393.6h.01M523.25 391.3h.01M523.25 391.6h.01M523.25 390.2h.01M523.5 390.2h.01M523.5 387.4h.01M523.5 387.8h.01M523.5 386.7h.01M523.75 386.7h.01M523.75 383.7h.01M523.75 385.1h.01M524 385.7h.01M524 383.1h.01M524 382.4h.01M524.25 379.6h.01M524.25 382.8h.01M524.5 377.1h.01M524.5 377.6h.01M524.5 376.1h.01M524.5 377.7h.01M524.5 377h.01M524.75 376.1h.01M524.75 378.3h.01M524.75 376.4h.01M525 376.1h.01M525 378.9h.01M525 377.5h.01M525 377.2h.01M525 379.6h.01M525.25 379.6h.01M525.25 377.6h.01M525.25 379.2h.01M525.25 379h.01M525.25 376.1h.01M525.25 378.8h.01M525.5 379.8h.01M525.5 383.1h.01M525.5 380.9h.01M525.5 382.9h.01M525.75 383.1h.01M525.75 385.6h.01M525.75 386.7h.01M526 387.7h.01M526 390.2h.01M526 387.1h.01M526.25 390.4h.01M526.25 393.7h.01M526.25 391h.01M526.5 393.7h.01M526.5 390.8h.01M526.5 390.2h.01M526.75 391.2h.01M526.75 393.7h.01M526.75 390.6h.01M526.75 390.2h.01M526.75 387.5h.01M527 386.7h.01M527 385.4h.01M527 383.1h.01M527 379.8h.01M527 379.6h.01M527 377.7h.01M527.25 373.2h.01M527.25 372.1h.01M527.25 369.1h.01M527.25 366.5h.01M527.25 362h.01M527.5 360.9h.01M527.5 356.4h.01M527.5 355h.01M527.5 351.5h.01M527.5 349.8h.01M527.5 345.2h.01M527.75 340.9h.01M527.75 339.6h.01M527.75 337.4h.01M527.75 334h.01M527.75 330.4h.01M527.75 328.4h.01M528 323.9h.01M528 322.9h.01M528 318.3h.01M528 313.7h.01M528 309.2h.01M528.25 304.6h.01M528.25 302.3h.01M528.25 299.1h.01M528.25 294.5h.01M528.25 291.7h.01M528.25 288.9h.01M528.5 284.4h.01M528.5 281.2h.01M528.5 277.7h.01M528.5 276.7h.01M528.5 274.1h.01M528.75 271.1h.01M528.75 270.6h.01M528.75 270.5h.01M528.75 267.1h.01M529 267.1h.01M529 263.6h.01M529 265.4h.01M529 264.3h.01M529.25 263.2h.01M529.25 260.1h.01M529.25 257.5h.01M529.5 257h.01M529.5 256.5h.01M529.5 253.2h.01M529.5 255.3h.01M529.75 255.3h.01M529.75 253.3h.01M529.75 253h.01M530 252.6h.01M530 249.5h.01M530 247h.01M530 247.4h.01M530.25 246h.01M530.25 242.5h.01M530.25 245.2h.01M530.5 243.6h.01M530.5 245.9h.01M530.5 243.7h.01M530.5 243.5h.01M530.5 246h.01M530.75 246h.01M530.75 249.5h.01M531 251.2h.01M531 255.9h.01M531 253.6h.01M531 256.5h.01M531 259.5h.01M531 264.3h.01M531.25 269h.01M531.25 273.7h.01M531.25 278.5h.01M531.25 285.2h.01M531.25 291.4h.01M531.25 297.1h.01M531.5 304.4h.01M531.5 309.2h.01M531.5 317.4h.01M531.5 322.1h.01M531.5 326.9h.01M531.75 331.6h.01M531.75 333.9h.01M531.75 337.5h.01M531.75 342.3h.01M531.75 347h.01M531.75 348.2h.01M532 351.5h.01M532 356.9h.01M532 358.9h.01M532 363.6h.01M532 365.6h.01M532 369.6h.01M532.25 374.3h.01M532.25 379h.01M532.25 379.6h.01M532.25 381.5h.01M532.25 383.1h.01M532.5 387.4h.01M532.5 390.2h.01M532.5 393.4h.01M532.5 393.7h.01M532.5 395.8h.01M532.5 397.2h.01M532.75 397.2h.01M532.75 400.7h.01M532.75 398.4h.01M532.75 398.6h.01M532.75 400h.01M533 397.3h.01M533 397.8h.01M533 399.5h.01M533 397.2h.01M533.25 393.7h.01M533.25 391.3h.01M533.25 390.2h.01M533.5 386.7h.01M533.5 385.2h.01M533.5 383.1h.01M533.5 380.3h.01M533.5 376.1h.01M533.75 376.1h.01M533.75 374.8h.01M533.75 372.6h.01M533.75 370h.01M533.75 369.1h.01M533.75 365.1h.01M534 362h.01M534 359.6h.01M534 358.5h.01M534 354.8h.01M534.25 351.5h.01M534.25 349.9h.01M534.25 348h.01M534.25 345.1h.01M534.25 344.4h.01M534.25 340.9h.01M534.5 340.9h.01M534.5 338.9h.01M534.5 337.4h.01M534.5 333.4h.01M534.5 330.4h.01M534.75 328.6h.01M534.75 329.3h.01M534.75 327.3h.01M534.75 326.6h.01M534.75 323.4h.01M535 323.4h.01M535 320.4h.01M535 319.8h.01M535 316.3h.01M535.25 314.3h.01M535.25 312.8h.01M535.25 309.4h.01M535.25 309.3h.01M535.25 308.1h.01M535.25 305.8h.01M535.5 303.2h.01M535.5 302.3h.01M535.5 301.2h.01M535.5 297.1h.01M535.5 297.6h.01M535.75 295.7h.01M535.75 295.1h.01M535.75 291.7h.01M536 288.9h.01M536 288.2h.01M536 286.9h.01M536 284.7h.01M536.25 281.4h.01M536.25 284.3h.01M536.25 282.2h.01M536.25 282.9h.01M536.25 278.8h.01M536.25 277.6h.01M536.5 281h.01M536.5 277.6h.01M536.5 280.5h.01M536.75 277.6h.01M536.75 279.9h.01M536.75 281.2h.01M537 282.1h.01M537 284.7h.01M537 287.1h.01M537 288.2h.01M537 288.6h.01M537 291.7h.01M537.25 293.6h.01M537.25 295.2h.01M537.25 298.6h.01M537.25 299.3h.01M537.25 303.6h.01M537.5 305.8h.01M537.5 308.6h.01M537.5 309.3h.01M537.5 310h.01M537.5 314.3h.01M537.5 316.3h.01M537.75 319.3h.01M537.75 320h.01M537.75 323.4h.01M537.75 325.8h.01M537.75 326.9h.01M538 330.4h.01M538 331.5h.01M538 333.9h.01M538 337.3h.01M538 337.4h.01M538.25 337.4h.01M538.25 340.2h.01M538.25 340.9h.01M538.25 341.7h.01M538.5 344.5h.01M538.5 346.7h.01M538.5 348h.01M538.5 348.2h.01M538.5 351.5h.01M538.75 353.9h.01M538.75 355h.01M538.75 355.4h.01M538.75 358.5h.01M539 365.3h.01M539 362.6h.01M539 365.6h.01M539 368.4h.01M539.25 369.1h.01M539.25 372.6h.01M539.25 372.8h.01M539.5 376.1h.01M539.5 377.8h.01M539.5 379.6h.01M539.5 380.1h.01M539.5 383.1h.01M539.75 383.1h.01M539.75 386.5h.01M539.75 383.8h.01M539.75 386.7h.01M539.75 388.8h.01M540 387.3h.01M540 390.2h.01M540.25 390.2h.01M540.25 393.7h.01M540.5 397.2h.01M540.5 395.3h.01M540.5 396.4h.01M540.75 397.2h.01M540.75 395.4h.01M541 396.5h.01M541 394h.01M541 395.9h.01M541 396h.01M541 393.9h.01M541 393.7h.01M541.25 393.7h.01M541.25 391.3h.01M541.25 393.5h.01M541.5 391h.01M541.5 391.8h.01M541.5 390.2h.01M541.75 390.2h.01M541.75 386.7h.01M541.75 388.6h.01M542 386.7h.01M542 383.2h.01M542 383.1h.01M542 385.1h.01M542.25 383.6h.01M542.25 383.7h.01M542.25 382.1h.01M542.25 379.6h.01M542.25 381.6h.01M542.5 380.1h.01M542.5 379.6h.01M542.75 377.2h.01M542.75 379.6h.01M542.75 379h.01M542.75 376.1h.01M543 376.2h.01M543 378.5h.01M543 378.2h.01M543 376.5h.01M543 376.7h.01M543 379.6h.01M543.25 377h.01M543.25 376.3h.01M543.25 378.5h.01M543.25 376.1h.01M543.25 379.3h.01M543.5 378.9h.01M543.5 377.8h.01M543.5 379.6h.01M543.5 381.8h.01M543.75 379.9h.01M543.75 383.1h.01M543.75 386.7h.01M543.75 385.4h.01M544 385.4h.01M544 386.7h.01M544 389.5h.01M544.25 386.9h.01M544.25 388.9h.01M544.25 389h.01M544.25 390.2h.01M544.25 391h.01M544.25 393.7h.01M544.5 393.7h.01M544.5 390.5h.01M544.5 395h.01M544.5 394.8h.01M544.5 397.1h.01M544.75 393.7h.01M544.75 396.6h.01M544.75 396.8h.01M544.75 396.1h.01M544.75 393.8h.01M545 393.7h.01M545 395.6h.01M545 394.3h.01M545.25 393.7h.01M545.25 390.2h.01M545.25 388.2h.01M545.25 386.7h.01M545.25 386.2h.01M545.5 381.6h.01M545.5 379.6h.01M545.5 376.1h.01M545.5 374.1h.01M545.5 369.6h.01M545.75 368.5h.01M545.75 365.6h.01M545.75 363h.01M545.75 358.5h.01M545.75 357.5h.01M546 355h.01M546 351.9h.01M546 348h.01M546 346.4h.01M546 341.9h.01M546 340.8h.01M546.25 336.3h.01M546.25 333.9h.01M546.25 330.8h.01M546.25 329.8h.01M546.25 326.9h.01M546.25 324.2h.01M546.5 319.8h.01M546.5 318.7h.01M546.5 314.2h.01M546.5 309.6h.01M546.5 308.6h.01M546.5 304.1h.01M546.75 302.3h.01M546.75 298.5h.01M546.75 295.2h.01M546.75 293h.01M546.75 291.7h.01M547 288.2h.01M547 286.5h.01M547 281.9h.01M547 280.9h.01M547 277.6h.01M547.25 277.6h.01M547.25 274.1h.01M547.25 271.3h.01M547.25 272.8h.01M547.5 270.6h.01M547.5 267.1h.01M547.5 268.9h.01M547.5 267.8h.01M547.75 263.9h.01M547.75 267.1h.01M547.75 264.7h.01M547.75 263.6h.01M547.75 262.7h.01M547.75 260.1h.01M548 260.1h.01M548 256.6h.01M548 256.5h.01M548.25 256.5h.01M548.25 253h.01M548.25 250.6h.01M548.5 249.5h.01M548.5 250.5h.01M548.5 251h.01M548.5 248h.01M548.75 248.5h.01M548.75 249.5h.01M548.75 247.1h.01M549 249.5h.01M549 252.8h.01M549 253h.01M549 253.8h.01M549.25 256.5h.01M549.25 259.6h.01M549.25 257.2h.01M549.25 260.1h.01M549.25 263h.01M549.5 264.1h.01M549.5 268.7h.01M549.5 273.4h.01M549.5 277.6h.01M549.5 279.2h.01M549.5 283.8h.01M549.75 292h.01M549.75 296.6h.01M549.75 301.3h.01M549.75 305.9h.01M549.75 311.9h.01M549.75 316.3h.01M550 319.9h.01M550 324.5h.01M550 326.9h.01M550 330.3h.01M550 334.9h.01M550.25 339.6h.01M550.25 340.9h.01M550.25 345.4h.01M550.25 348h.01M550.25 354.3h.01M550.25 355.8h.01M550.5 360.4h.01M550.5 362h.01M550.5 366.2h.01M550.5 370.9h.01M550.5 372.6h.01M550.5 376.1h.01M550.75 377.8h.01M550.75 382.4h.01M550.75 386.7h.01M550.75 389.3h.01M551 390.5h.01M551 393.7h.01M551 397.2h.01M551 398.5h.01M551 398.3h.01M551.25 397.2h.01M551.25 399.7h.01M551.25 400.4h.01M551.25 398.9h.01M551.25 397.6h.01M551.5 397.2h.01M551.5 393.7h.01M551.5 390.7h.01M551.5 390.2h.01M551.75 390.2h.01M551.75 386.7h.01M551.75 385.2h.01M551.75 383.1h.01M551.75 378.9h.01M552 376.1h.01M552 371.3h.01M552 369.1h.01M552 365h.01M552 362h.01M552.25 362h.01M552.25 357.3h.01M552.25 355h.01M552.25 354.5h.01M552.25 349.6h.01M552.25 348h.01M552.5 344.5h.01M552.5 342h.01M552.5 340.6h.01M552.5 337.4h.01M552.75 333.9h.01M552.75 331.6h.01M552.75 327.1h.01M552.75 328.8h.01M552.75 326.9h.01M552.75 322.5h.01M553 319.8h.01M553 318.4h.01M553 316.3h.01M553 314.9h.01M553 309.3h.01M553.25 309.3h.01M553.25 307.9h.01M553.25 303h.01M553.25 302.3h.01M553.25 298.9h.01M553.5 297.5h.01M553.5 295.2h.01M553.5 291.7h.01M553.5 289.8h.01M553.5 288.2h.01M553.75 284.7h.01M553.75 284.3h.01M553.75 281.2h.01M553.75 277.6h.01M554 277.6h.01M554 274.1h.01M554 269.6h.01M554.25 267.2h.01M554.25 270.6h.01M554.25 267.7h.01M554.25 269.9h.01M554.25 267.1h.01M554.5 267.1h.01M554.5 267.9h.01M554.5 270.6h.01M554.5 274.1h.01M554.75 274.1h.01M554.75 276.6h.01M554.75 277.6h.01M554.75 281.2h.01M554.75 282.7h.01M554.75 284.7h.01M555 284.7h.01M555 288.8h.01M555 291.7h.01M555 296.4h.01M555 298.7h.01M555.25 302.8h.01M555.25 305.8h.01M555.25 312h.01M555.25 313.3h.01M555.25 316.3h.01M555.5 318.5h.01M555.5 322.9h.01M555.5 323.4h.01M555.5 324.6h.01M555.5 326.9h.01M555.75 330.4h.01M555.75 331.6h.01M555.75 335.9h.01M555.75 334.5h.01M555.75 337.4h.01M555.75 338.5h.01M556 340.9h.01M556 344.5h.01M556 346.3h.01M556.25 348h.01M556.25 351.5h.01M556.25 354.1h.01M556.25 355h.01M556.5 358.5h.01M556.5 360.2h.01M556.5 362h.01M556.5 365.6h.01M556.75 368.1h.01M556.75 369.1h.01M556.75 370.6h.01M556.75 372.6h.01M557 372.6h.01M557 373.2h.01M557 376.1h.01M557 379.3h.01M557 379.6h.01M557.25 381h.01M557.25 383.1h.01M557.25 386.7h.01M557.25 388.8h.01M557.5 390.2h.01M557.5 392.3h.01M557.5 390.7h.01M557.5 390.5h.01M557.75 393.7h.01M557.75 393.9h.01M557.75 397.2h.01M558 395.3h.01M558 399.3h.01M558 397.2h.01M558 399.9h.01M558.25 400.6h.01M558.25 398.1h.01M558.25 400.7h.01M558.5 399h.01M558.5 399.8h.01M558.5 397.2h.01M558.5 400.7h.01M558.75 400.7h.01M558.75 398h.01M558.75 398.1h.01M558.75 397.2h.01M559 394.5h.01M559 397.2h.01M559 393.8h.01M559 393.7h.01M559.25 393.7h.01M559.25 391h.01M559.5 390.3h.01M559.5 390.2h.01M559.5 389.4h.01M559.75 386.7h.01M559.75 383.3h.01M559.75 385.1h.01M559.75 383.1h.01M560 383.1h.01M560.25 381.6h.01M560.25 379.6h.01M560.25 382.9h.01M560.5 379.6h.01M560.5 376.3h.01M560.5 378.1h.01M560.5 378.5h.01M560.75 376.1h.01M560.75 379.6h.01M561 379.6h.01M561 379h.01M561 377.6h.01M561 377.3h.01M561.25 376.1h.01M561.25 379.6h.01M561.25 378.2h.01M561.25 378.4h.01M561.25 380.2h.01M561.5 381.7h.01M561.5 379.6h.01M561.5 382.8h.01M561.5 382.6h.01M561.5 381h.01M561.5 383.1h.01M561.75 386.3h.01M561.75 386.7h.01M561.75 385.3h.01M561.75 385.4h.01M562 386.7h.01M562.25 386.7h.01M562.25 389.8h.01M562.25 390.2h.01M562.25 387.1h.01M562.5 390.2h.01M562.5 388.9h.01M562.5 386.7h.01M562.5 385.4h.01M562.75 383.1h.01M562.75 379.6h.01M562.75 378.3h.01M562.75 376.1h.01M563 376.1h.01M563 372.6h.01M563 371.3h.01M563 369.1h.01M563 365.6h.01M563.25 364.3h.01M563.25 359.9h.01M563.25 358.5h.01M563.25 355h.01M563.25 353.8h.01M563.25 351.5h.01M563.5 348.5h.01M563.5 347.6h.01M563.5 344.5h.01M563.5 342.4h.01M563.5 338h.01M563.75 337.1h.01M563.75 333.9h.01M563.75 331.9h.01M563.75 330.4h.01M563.75 326.9h.01M563.75 325.7h.01M564 323.4h.01M564 320.4h.01M564 316.1h.01M564 312.8h.01M564 310.8h.01M564 309.3h.01M564.25 305.5h.01M564.25 302.3h.01M564.25 298.3h.01M564.25 295.2h.01M564.25 295h.01M564.25 290.6h.01M564.5 288.2h.01M564.5 284.5h.01M564.5 281.2h.01M564.75 278.3h.01M564.75 277.6h.01M564.75 276.6h.01M564.75 276.1h.01M564.75 274.8h.01M564.75 273.9h.01M565 271.6h.01M565 272.2h.01M565 270.6h.01M565 267.2h.01M565 269.6h.01M565 265.2h.01M565.25 266.3h.01M565.25 267.1h.01M565.25 265.2h.01M565.25 260.8h.01M565.5 263.6h.01M565.5 262.6h.01M565.5 260.1h.01M565.5 256.6h.01M565.75 260.1h.01M565.75 257.3h.01M565.75 253.1h.01M565.75 255.6h.01M565.75 253h.01M566 249.5h.01M566 246h.01M566.25 246h.01M566.25 244.2h.01M566.5 242.5h.01M566.5 243.8h.01M566.5 243.4h.01M566.75 245.5h.01M566.75 246h.01M566.75 248.1h.01M566.75 249.5h.01M566.75 252h.01M567 253h.01M567 254.6h.01M567 256.5h.01M567 257.2h.01M567 258.1h.01M567.25 259.8h.01M567.25 263.6h.01M567.25 265.9h.01M567.25 270.6h.01M567.25 272h.01M567.25 274.1h.01M567.5 278.1h.01M567.5 282.9h.01M567.5 287.7h.01M567.5 291.7h.01M567.5 296h.01M567.5 298.7h.01M567.75 303.5h.01M567.75 308.3h.01M567.75 309.6h.01M567.75 314.4h.01M567.75 319.2h.01M568 323.4h.01M568 326.7h.01M568 330.4h.01M568 332.8h.01M568 333.9h.01M568.25 335.4h.01M568.25 337.4h.01M568.25 340.9h.01M568.25 344.1h.01M568.25 345.4h.01M568.5 348h.01M568.5 351.5h.01M568.5 354.1h.01M568.5 355h.01M568.75 356.7h.01M568.75 358.5h.01M568.75 362h.01M568.75 365.4h.01M568.75 366.7h.01M569 369.1h.01M569 370.6h.01M569 372.6h.01M569 373.2h.01M569 376.1h.01M569.25 379.3h.01M569.25 377.1h.01M569.25 379.6h.01M569.25 379.7h.01M569.25 381.7h.01M569.25 382.3h.01M569.5 386.7h.01M569.5 383.6h.01M569.5 388.8h.01M569.75 390.2h.01M569.75 388.9h.01M569.75 389.2h.01M569.75 391.8h.01M569.75 393.7h.01M570 393.7h.01M570 391.7h.01M570 393.5h.01M570 391.8h.01M570 392.4h.01M570.25 391.1h.01M570.25 390.2h.01M570.25 393.4h.01M570.25 393.7h.01M570.5 393.7h.01M570.5 392.6h.01M570.5 390.2h.01M570.75 390.2h.01M571 389h.01M571 386.7h.01M571 384.1h.01M571 386h.01M571.25 386.7h.01M571.25 383.1h.01M571.25 382.1h.01M571.5 381h.01M571.5 381.4h.01M571.5 381.7h.01M571.5 380.8h.01M571.5 379.6h.01M571.75 379.6h.01M571.75 376.3h.01M571.75 378.4h.01M571.75 376.1h.01M572 376.1h.01M572 372.9h.01M572.25 372.6h.01M572.25 375.8h.01M572.5 372.6h.01M572.5 370.3h.01M572.5 369.1h.01M572.5 369.2h.01M572.75 372.1h.01M572.75 369.1h.01M572.75 367.6h.01M572.75 365.6h.01M573 367.7h.01M573 366.6h.01M573 362.7h.01M573 362h.01M573 365.5h.01M573 365.6h.01M573.25 365.6h.01M573.25 364.3h.01M573.25 363.7h.01M573.25 363.6h.01M573.25 362h.01M573.5 362h.01M573.5 358.7h.01M573.5 358.6h.01M573.5 361.6h.01M573.5 359.3h.01M573.75 359.8h.01M573.75 356.4h.01M573.75 358.5h.01M573.75 356.1h.01M574 355h.01M574 358.3h.01M574 355.6h.01M574 357.6h.01M574.25 355h.01M574.25 353.4h.01M574.25 358h.01M574.25 352.5h.01M574.25 351.5h.01M574.5 354h.01M574.5 351.5h.01M574.5 351h.01M574.5 348h.01M574.5 353.5h.01M574.75 355h.01M574.75 354h.01M574.75 351h.01M574.75 349h.01M575 349.5h.01M575 348h.01M575 351.5h.01M575 355h.01M575 349h.01M575.25 348.5h.01M575.25 349.5h.01M575.25 352.5h.01M575.25 348h.01M575.25 350h.01M575.5 349.5h.01M575.5 355h.01M575.5 352h.01M575.5 353h.01M575.5 351.5h.01M575.5 348h.01M575.75 351.5h.01M575.75 350h.01M575.75 355h.01"/>
<path fill="#f00" d="M509.9 348.9L512.7 353.9L507.1 353.9ZM513.0 379.8L515.8 384.8L510.2 384.8ZM517.6 252.8L520.4 257.8L514.9 257.8ZM521.9 397.6L524.7 402.6L519.1 402.6ZM530.4 253.5L533.2 258.5L527.6 258.5ZM532.9 394.0L535.7 399.0L530.1 399.0ZM536.6 285.9L539.4 290.9L533.9 290.9ZM540.6 394.4L543.4 399.4L537.9 399.4ZM548.6 252.0L551.4 257.0L545.9 257.0ZM551.2 396.7L554.0 401.7L548.4 401.7ZM554.4 273.5L557.2 278.5L551.6 278.5ZM558.4 400.1L561.2 405.1L555.6 405.1ZM566.4 252.8L569.2 257.8L563.6 257.8ZM570.0 396.5L572.8 401.5L567.2 401.5ZM574.2 353.9L577.0 358.9L571.4 358.9Z"/>
<path fill="#00f" d="M509.9 349.8L512.7 354.8L507.1 354.8ZM513.0 383.1L515.8 388.1L510.2 388.1ZM517.6 241.2L520.4 246.2L514.9 246.2ZM521.9 393.4L524.7 398.4L519.1 398.4ZM530.4 242.2L533.2 247.2L527.6 247.2ZM532.9 392.5L535.7 397.5L530.1 397.5ZM536.6 279.8L539.4 284.8L533.9 284.8ZM540.6 390.8L543.4 395.8L537.9 395.8ZM548.6 246.7L551.4 251.7L545.9 251.7ZM551.2 393.1L554.0 398.1L548.4 398.1ZM554.4 264.7L557.2 269.7L551.6 269.7ZM558.4 394.2L561.2 399.2L555.6 399.2ZM566.4 242.6L569.2 247.6L563.6 247.6ZM570.0 388.1L572.8 393.1L567.2 393.1ZM574.2 352.5L577.0 357.5L571.4 357.5Z"/>
<text class="t" x="404.3" y="260.5" style="font-size:17px;font-style:italic">D</text><text class="t" x="418.0" y="252.7" style="font-size:10.5px">2</text>
</svg>
</body></html>
